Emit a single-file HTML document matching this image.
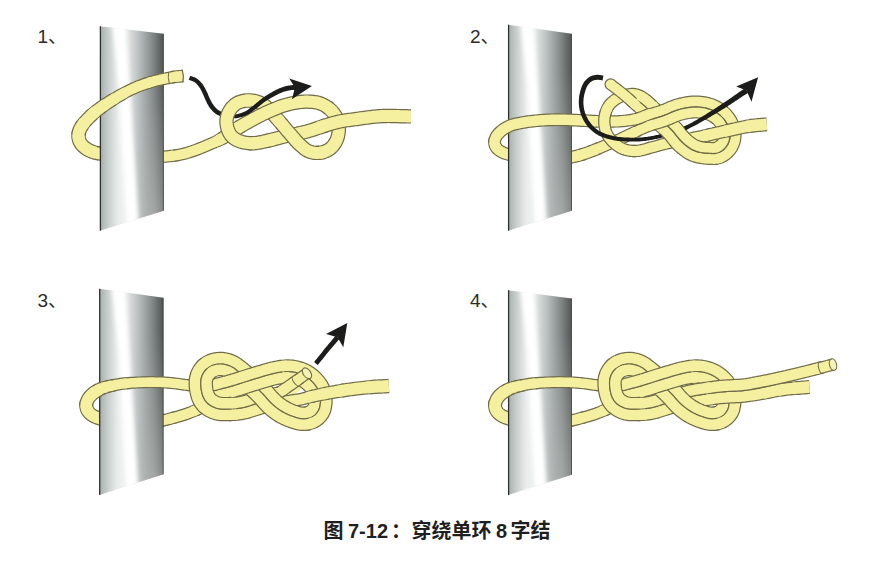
<!DOCTYPE html>
<html lang="zh"><head><meta charset="utf-8"><title>图 7-12：穿绕单环 8 字结</title>
<style>
html,body{margin:0;padding:0;background:#fff;}
body{width:891px;height:571px;overflow:hidden;position:relative;font-family:"Liberation Sans","Noto Sans CJK SC",sans-serif;}
svg{position:absolute;left:0;top:0;display:block;}
.lbl{position:absolute;font-size:19px;line-height:19px;color:#2b2b2b;white-space:nowrap;}
.cap{position:absolute;font-size:20px;line-height:22px;font-weight:bold;color:#1f1f1f;white-space:nowrap;}
</style></head><body>
<svg width="891" height="571" viewBox="0 0 891 571" fill="none" stroke-linecap="butt" stroke-linejoin="round">
<defs><filter id="blur" x="-50%" y="-10%" width="200%" height="120%"><feGaussianBlur stdDeviation="2.2 0.1"/></filter><linearGradient id="g1" gradientUnits="userSpaceOnUse" x1="100.0" y1="0" x2="163.7" y2="0"><stop offset="0.000" stop-color="#a9b1ae"/><stop offset="0.030" stop-color="#adb4b2"/><stop offset="0.085" stop-color="#bcc3c1"/><stop offset="0.155" stop-color="#cdd3d1"/><stop offset="0.225" stop-color="#dde1e0"/><stop offset="0.290" stop-color="#eaedec"/><stop offset="0.360" stop-color="#eceeee"/><stop offset="0.430" stop-color="#e2e6e5"/><stop offset="0.500" stop-color="#d3d8d7"/><stop offset="0.570" stop-color="#c3c9c8"/><stop offset="0.640" stop-color="#b2b8b7"/><stop offset="0.710" stop-color="#a0a6a5"/><stop offset="0.780" stop-color="#8e9493"/><stop offset="0.850" stop-color="#7b8180"/><stop offset="0.920" stop-color="#676c6b"/><stop offset="0.970" stop-color="#585d5c"/><stop offset="1.000" stop-color="#4c5050"/></linearGradient><clipPath id="cg1"><polygon points="100.0,26.3 163.7,33.8 163.7,210.8 100.0,230.7"/></clipPath><linearGradient id="vg1" gradientUnits="userSpaceOnUse" x1="0" y1="26.3" x2="0" y2="230.7"><stop offset="0.2" stop-color="#fff" stop-opacity="0"/><stop offset="1" stop-color="#fff" stop-opacity="0.34"/></linearGradient><linearGradient id="hg1" gradientUnits="userSpaceOnUse" x1="100.0" y1="0" x2="163.7" y2="0"><stop offset="0.55" stop-color="#000"/><stop offset="0.85" stop-color="#fff"/></linearGradient><mask id="mg1" maskUnits="userSpaceOnUse" x="100.0" y="26.3" width="63.7" height="204.4"><rect x="100.0" y="26.3" width="63.7" height="204.4" fill="url(#hg1)"/></mask><linearGradient id="g2" gradientUnits="userSpaceOnUse" x1="508.0" y1="0" x2="571.8" y2="0"><stop offset="0.000" stop-color="#a9b1ae"/><stop offset="0.030" stop-color="#adb4b2"/><stop offset="0.085" stop-color="#bcc3c1"/><stop offset="0.155" stop-color="#cdd3d1"/><stop offset="0.225" stop-color="#dde1e0"/><stop offset="0.290" stop-color="#eaedec"/><stop offset="0.360" stop-color="#eceeee"/><stop offset="0.430" stop-color="#e2e6e5"/><stop offset="0.500" stop-color="#d3d8d7"/><stop offset="0.570" stop-color="#c3c9c8"/><stop offset="0.640" stop-color="#b2b8b7"/><stop offset="0.710" stop-color="#a0a6a5"/><stop offset="0.780" stop-color="#8e9493"/><stop offset="0.850" stop-color="#7b8180"/><stop offset="0.920" stop-color="#676c6b"/><stop offset="0.970" stop-color="#585d5c"/><stop offset="1.000" stop-color="#4c5050"/></linearGradient><clipPath id="cg2"><polygon points="508.2,24.7 571.8,33.8 571.8,210.8 508.2,230.7"/></clipPath><linearGradient id="vg2" gradientUnits="userSpaceOnUse" x1="0" y1="24.7" x2="0" y2="230.7"><stop offset="0.2" stop-color="#fff" stop-opacity="0"/><stop offset="1" stop-color="#fff" stop-opacity="0.34"/></linearGradient><linearGradient id="hg2" gradientUnits="userSpaceOnUse" x1="508.2" y1="0" x2="571.8" y2="0"><stop offset="0.55" stop-color="#000"/><stop offset="0.85" stop-color="#fff"/></linearGradient><mask id="mg2" maskUnits="userSpaceOnUse" x="508.2" y="24.7" width="63.6" height="206.0"><rect x="508.2" y="24.7" width="63.6" height="206.0" fill="url(#hg2)"/></mask><linearGradient id="g4" gradientUnits="userSpaceOnUse" x1="508.0" y1="0" x2="572.0" y2="0"><stop offset="0.000" stop-color="#a9b1ae"/><stop offset="0.030" stop-color="#adb4b2"/><stop offset="0.085" stop-color="#bcc3c1"/><stop offset="0.155" stop-color="#cdd3d1"/><stop offset="0.225" stop-color="#dde1e0"/><stop offset="0.290" stop-color="#eaedec"/><stop offset="0.360" stop-color="#eceeee"/><stop offset="0.430" stop-color="#e2e6e5"/><stop offset="0.500" stop-color="#d3d8d7"/><stop offset="0.570" stop-color="#c3c9c8"/><stop offset="0.640" stop-color="#b2b8b7"/><stop offset="0.710" stop-color="#a0a6a5"/><stop offset="0.780" stop-color="#8e9493"/><stop offset="0.850" stop-color="#7b8180"/><stop offset="0.920" stop-color="#676c6b"/><stop offset="0.970" stop-color="#585d5c"/><stop offset="1.000" stop-color="#4c5050"/></linearGradient><clipPath id="cg4"><polygon points="508.2,290.2 571.8,298.4 571.8,474.8 508.2,495.1"/></clipPath><linearGradient id="vg4" gradientUnits="userSpaceOnUse" x1="0" y1="290.2" x2="0" y2="495.1"><stop offset="0.2" stop-color="#fff" stop-opacity="0"/><stop offset="1" stop-color="#fff" stop-opacity="0.34"/></linearGradient><linearGradient id="hg4" gradientUnits="userSpaceOnUse" x1="508.2" y1="0" x2="571.8" y2="0"><stop offset="0.55" stop-color="#000"/><stop offset="0.85" stop-color="#fff"/></linearGradient><mask id="mg4" maskUnits="userSpaceOnUse" x="508.2" y="290.2" width="63.6" height="204.9"><rect x="508.2" y="290.2" width="63.6" height="204.9" fill="url(#hg4)"/></mask><linearGradient id="g3" gradientUnits="userSpaceOnUse" x1="99.2" y1="0" x2="163.4" y2="0"><stop offset="0.000" stop-color="#a9b1ae"/><stop offset="0.030" stop-color="#adb4b2"/><stop offset="0.085" stop-color="#bcc3c1"/><stop offset="0.155" stop-color="#cdd3d1"/><stop offset="0.225" stop-color="#dde1e0"/><stop offset="0.290" stop-color="#eaedec"/><stop offset="0.360" stop-color="#eceeee"/><stop offset="0.430" stop-color="#e2e6e5"/><stop offset="0.500" stop-color="#d3d8d7"/><stop offset="0.570" stop-color="#c3c9c8"/><stop offset="0.640" stop-color="#b2b8b7"/><stop offset="0.710" stop-color="#a0a6a5"/><stop offset="0.780" stop-color="#8e9493"/><stop offset="0.850" stop-color="#7b8180"/><stop offset="0.920" stop-color="#676c6b"/><stop offset="0.970" stop-color="#585d5c"/><stop offset="1.000" stop-color="#4c5050"/></linearGradient><clipPath id="cg3"><polygon points="99.3,288.8 163.5,297.8 163.5,474.3 99.3,495.1"/></clipPath><linearGradient id="vg3" gradientUnits="userSpaceOnUse" x1="0" y1="288.8" x2="0" y2="495.1"><stop offset="0.2" stop-color="#fff" stop-opacity="0"/><stop offset="1" stop-color="#fff" stop-opacity="0.34"/></linearGradient><linearGradient id="hg3" gradientUnits="userSpaceOnUse" x1="99.3" y1="0" x2="163.5" y2="0"><stop offset="0.55" stop-color="#000"/><stop offset="0.85" stop-color="#fff"/></linearGradient><mask id="mg3" maskUnits="userSpaceOnUse" x="99.3" y="288.8" width="64.2" height="206.3"><rect x="99.3" y="288.8" width="64.2" height="206.3" fill="url(#hg3)"/></mask></defs>
<path d="M79.2,131.4L78.7,133.2L78.5,135.0L78.5,136.9L78.8,138.7L79.3,140.5L80.1,142.3L81.2,144.0L82.5,145.5L83.6,146.6L84.8,147.7L86.1,148.6L87.5,149.5L89.0,150.4L90.7,151.1L92.3,151.7L94.0,152.3L95.7,152.8L97.5,153.2L99.2,153.5" stroke="#706c48" stroke-width="14.40"/><path d="M79.8,129.6L79.2,131.4L78.7,133.2L78.5,135.0L78.5,136.9L78.8,138.7L79.3,140.5L80.1,142.3L81.2,144.0L82.5,145.5L83.6,146.6L84.8,147.7L86.1,148.6L87.5,149.5L89.0,150.4L90.7,151.1L92.3,151.7L94.0,152.3L95.7,152.8L97.5,153.2L99.2,153.5L101.0,153.8L102.5,154.1" stroke="#f4f0a0" stroke-width="12.00"/>
<path d="M95.7,152.8L97.5,153.2L99.2,153.5L101.0,153.8L102.5,154.1L104.1,154.4L105.7,154.6L107.2,154.9L108.8,155.1" stroke="#706c48" stroke-width="14.00"/><path d="M92.3,151.7L94.0,152.3L95.7,152.8L97.5,153.2L99.2,153.5L101.0,153.8L102.5,154.1L104.1,154.4L105.7,154.6L107.2,154.9L108.8,155.1L110.3,155.3L111.9,155.6" stroke="#f4f0a0" stroke-width="11.60"/>
<path d="M105.7,154.6L107.2,154.9L108.8,155.1L110.3,155.3L111.9,155.6L113.4,155.8L115.0,156.0L116.5,156.2L118.0,156.4L119.5,156.6L121.0,156.8" stroke="#706c48" stroke-width="13.60"/><path d="M102.5,154.1L104.1,154.4L105.7,154.6L107.2,154.9L108.8,155.1L110.3,155.3L111.9,155.6L113.4,155.8L115.0,156.0L116.5,156.2L118.0,156.4L119.5,156.6L121.0,156.8L122.5,157.0L124.0,157.2" stroke="#f4f0a0" stroke-width="11.20"/>
<path d="M118.0,156.4L119.5,156.6L121.0,156.8L122.5,157.0L124.0,157.2L125.5,157.4L127.0,157.5L128.5,157.7L130.0,157.8L131.5,157.9" stroke="#706c48" stroke-width="13.20"/><path d="M115.0,156.0L116.5,156.2L118.0,156.4L119.5,156.6L121.0,156.8L122.5,157.0L124.0,157.2L125.5,157.4L127.0,157.5L128.5,157.7L130.0,157.8L131.5,157.9L133.0,158.0L134.5,158.1" stroke="#f4f0a0" stroke-width="10.80"/>
<path d="M128.5,157.7L130.0,157.8L131.5,157.9L133.0,158.0L134.5,158.1L136.0,158.2L137.5,158.2L139.0,158.3L140.5,158.3L142.0,158.3L143.5,158.3L145.0,158.3L146.6,158.3" stroke="#706c48" stroke-width="12.80"/><path d="M125.5,157.4L127.0,157.5L128.5,157.7L130.0,157.8L131.5,157.9L133.0,158.0L134.5,158.1L136.0,158.2L137.5,158.2L139.0,158.3L140.5,158.3L142.0,158.3L143.5,158.3L145.0,158.3L146.6,158.3L148.2,158.2L149.8,158.1" stroke="#f4f0a0" stroke-width="10.40"/>
<path d="M143.5,158.3L145.0,158.3L146.6,158.3L148.2,158.2L149.8,158.1L151.3,158.0L152.9,157.8L154.5,157.7L156.1,157.5L157.7,157.4L159.3,157.2L160.8,157.0L162.4,156.9L164.0,156.7L165.7,156.5L167.3,156.4L169.0,156.2L170.7,156.0L172.3,155.8L174.0,155.6L175.6,155.4L177.3,155.1" stroke="#706c48" stroke-width="12.40"/><path d="M140.5,158.3L142.0,158.3L143.5,158.3L145.0,158.3L146.6,158.3L148.2,158.2L149.8,158.1L151.3,158.0L152.9,157.8L154.5,157.7L156.1,157.5L157.7,157.4L159.3,157.2L160.8,157.0L162.4,156.9L164.0,156.7L165.7,156.5L167.3,156.4L169.0,156.2L170.7,156.0L172.3,155.8L174.0,155.6L175.6,155.4L177.3,155.1L178.9,154.8" stroke="#f4f0a0" stroke-width="10.00"/>
<path d="M495.1,139.1L494.6,140.9L494.5,142.8L494.9,144.8L495.7,146.6L496.8,148.3L497.9,149.4L499.1,150.4L500.4,151.2L501.8,152.0L503.4,152.8L505.0,153.4L506.7,153.9L508.4,154.4L509.9,154.8L511.4,155.2L512.8,155.5L514.4,155.7L515.9,156.0L517.4,156.2L518.9,156.3L520.4,156.5L522.0,156.7L523.5,156.8L525.0,157.0L526.5,157.2L528.1,157.3L529.6,157.5L531.1,157.6L532.7,157.7L534.2,157.8L535.8,157.9L537.3,158.0L538.8,158.1L540.4,158.2L541.9,158.2L543.5,158.3L545.0,158.3L546.6,158.3L548.2,158.4L549.7,158.4L551.3,158.4L552.9,158.4L554.5,158.4L556.1,158.4L557.7,158.4L559.3,158.4L560.8,158.3L562.4,158.2L564.0,158.1L565.6,158.0L567.1,157.8L568.7,157.6L570.2,157.4L571.8,157.1L573.3,156.8L574.9,156.4L576.4,156.1L578.0,155.7L579.5,155.2L581.0,154.8L582.6,154.3L584.2,153.8" stroke="#706c48" stroke-width="12.80"/><path d="M495.8,137.3L495.1,139.1L494.6,140.9L494.5,142.8L494.9,144.8L495.7,146.6L496.8,148.3L497.9,149.4L499.1,150.4L500.4,151.2L501.8,152.0L503.4,152.8L505.0,153.4L506.7,153.9L508.4,154.4L509.9,154.8L511.4,155.2L512.8,155.5L514.4,155.7L515.9,156.0L517.4,156.2L518.9,156.3L520.4,156.5L522.0,156.7L523.5,156.8L525.0,157.0L526.5,157.2L528.1,157.3L529.6,157.5L531.1,157.6L532.7,157.7L534.2,157.8L535.8,157.9L537.3,158.0L538.8,158.1L540.4,158.2L541.9,158.2L543.5,158.3L545.0,158.3L546.6,158.3L548.2,158.4L549.7,158.4L551.3,158.4L552.9,158.4L554.5,158.4L556.1,158.4L557.7,158.4L559.3,158.4L560.8,158.3L562.4,158.2L564.0,158.1L565.6,158.0L567.1,157.8L568.7,157.6L570.2,157.4L571.8,157.1L573.3,156.8L574.9,156.4L576.4,156.1L578.0,155.7L579.5,155.2L581.0,154.8L582.6,154.3L584.2,153.8L585.7,153.3" stroke="#f4f0a0" stroke-width="10.40"/>
<path d="M540.0,421.4L541.5,421.4L543.1,421.4L544.6,421.4L546.2,421.4L547.7,421.5L549.2,421.5L550.8,421.5L552.3,421.5L553.9,421.5L555.4,421.5L556.9,421.4L558.5,421.4L560.0,421.3L561.5,421.2L563.0,421.1L564.5,421.1L566.0,421.0L567.5,420.9L569.0,420.7L570.5,420.5L572.0,420.3L573.7,420.0" stroke="#706c48" stroke-width="12.80"/><path d="M540.0,421.4L541.5,421.4L543.1,421.4L544.6,421.4L546.2,421.4L547.7,421.5L549.2,421.5L550.8,421.5L552.3,421.5L553.9,421.5L555.4,421.5L556.9,421.4L558.5,421.4L560.0,421.3L561.5,421.2L563.0,421.1L564.5,421.1L566.0,421.0L567.5,420.9L569.0,420.7L570.5,420.5L572.0,420.3L573.7,420.0L575.4,419.6L577.0,419.2" stroke="#f4f0a0" stroke-width="10.40"/>
<path d="M570.5,420.5L572.0,420.3L573.7,420.0L575.4,419.6L577.0,419.2L578.7,418.7L580.3,418.3L582.0,417.8L583.7,417.4L585.3,416.9" stroke="#706c48" stroke-width="12.40"/><path d="M567.5,420.9L569.0,420.7L570.5,420.5L572.0,420.3L573.7,420.0L575.4,419.6L577.0,419.2L578.7,418.7L580.3,418.3L582.0,417.8L583.7,417.4L585.3,416.9L587.0,416.5" stroke="#f4f0a0" stroke-width="10.00"/>
<path d="M545.0,421.5L543.5,421.4L541.9,421.4L540.4,421.3L538.8,421.2L537.3,421.2L535.8,421.1L534.2,421.1L532.7,421.0L531.1,420.9L529.6,420.8L528.1,420.7L526.5,420.6L525.0,420.5L523.5,420.4L521.9,420.3" stroke="#706c48" stroke-width="12.80"/><path d="M545.0,421.5L543.5,421.4L541.9,421.4L540.4,421.3L538.8,421.2L537.3,421.2L535.8,421.1L534.2,421.1L532.7,421.0L531.1,420.9L529.6,420.8L528.1,420.7L526.5,420.6L525.0,420.5L523.5,420.4L521.9,420.3L520.3,420.2L518.8,420.1" stroke="#f4f0a0" stroke-width="10.40"/>
<path d="M525.0,420.5L523.5,420.4L521.9,420.3L520.3,420.2L518.8,420.1L517.2,420.0L515.7,419.9" stroke="#706c48" stroke-width="13.20"/><path d="M528.1,420.7L526.5,420.6L525.0,420.5L523.5,420.4L521.9,420.3L520.3,420.2L518.8,420.1L517.2,420.0L515.7,419.9L514.1,419.7L512.6,419.5" stroke="#f4f0a0" stroke-width="10.80"/>
<path d="M518.8,420.1L517.2,420.0L515.7,419.9L514.1,419.7L512.6,419.5L511.1,419.2L509.6,418.8" stroke="#706c48" stroke-width="13.60"/><path d="M521.9,420.3L520.3,420.2L518.8,420.1L517.2,420.0L515.7,419.9L514.1,419.7L512.6,419.5L511.1,419.2L509.6,418.8L508.1,418.4L506.4,417.8" stroke="#f4f0a0" stroke-width="11.20"/>
<path d="M512.6,419.5L511.1,419.2L509.6,418.8L508.1,418.4L506.4,417.8L504.7,417.2L503.1,416.5L501.5,415.6L500.2,414.7L498.9,413.7L497.8,412.6L496.8,411.3L495.9,409.6L495.3,407.7L495.0,405.8L495.1,403.8L495.6,401.9" stroke="#706c48" stroke-width="14.00"/><path d="M515.7,419.9L514.1,419.7L512.6,419.5L511.1,419.2L509.6,418.8L508.1,418.4L506.4,417.8L504.7,417.2L503.1,416.5L501.5,415.6L500.2,414.7L498.9,413.7L497.8,412.6L496.8,411.3L495.9,409.6L495.3,407.7L495.0,405.8L495.1,403.8L495.6,401.9L496.4,400.0" stroke="#f4f0a0" stroke-width="11.60"/>
<path d="M131.2,421.4L132.7,421.4L134.3,421.4L135.8,421.4L137.4,421.4L138.9,421.5L140.4,421.5L142.0,421.5L143.5,421.5L145.1,421.5L146.6,421.5L148.1,421.4L149.7,421.4L151.2,421.3L152.7,421.2L154.2,421.1L155.7,421.1L157.2,421.0L158.7,420.9L160.2,420.7L161.7,420.5L163.2,420.3L164.9,420.0" stroke="#706c48" stroke-width="12.80"/><path d="M131.2,421.4L132.7,421.4L134.3,421.4L135.8,421.4L137.4,421.4L138.9,421.5L140.4,421.5L142.0,421.5L143.5,421.5L145.1,421.5L146.6,421.5L148.1,421.4L149.7,421.4L151.2,421.3L152.7,421.2L154.2,421.1L155.7,421.1L157.2,421.0L158.7,420.9L160.2,420.7L161.7,420.5L163.2,420.3L164.9,420.0L166.6,419.6L168.2,419.2" stroke="#f4f0a0" stroke-width="10.40"/>
<path d="M161.7,420.5L163.2,420.3L164.9,420.0L166.6,419.6L168.2,419.2L169.9,418.7L171.5,418.3L173.2,417.8L174.9,417.4L176.5,416.9" stroke="#706c48" stroke-width="12.40"/><path d="M158.7,420.9L160.2,420.7L161.7,420.5L163.2,420.3L164.9,420.0L166.6,419.6L168.2,419.2L169.9,418.7L171.5,418.3L173.2,417.8L174.9,417.4L176.5,416.9L178.2,416.5" stroke="#f4f0a0" stroke-width="10.00"/>
<path d="M136.2,421.5L134.7,421.4L133.1,421.4L131.6,421.3L130.0,421.2L128.5,421.2L127.0,421.1L125.4,421.1L123.9,421.0L122.3,420.9L120.8,420.8L119.3,420.7L117.7,420.6L116.2,420.5L114.7,420.4L113.1,420.3" stroke="#706c48" stroke-width="12.80"/><path d="M136.2,421.5L134.7,421.4L133.1,421.4L131.6,421.3L130.0,421.2L128.5,421.2L127.0,421.1L125.4,421.1L123.9,421.0L122.3,420.9L120.8,420.8L119.3,420.7L117.7,420.6L116.2,420.5L114.7,420.4L113.1,420.3L111.5,420.2L110.0,420.1" stroke="#f4f0a0" stroke-width="10.40"/>
<path d="M116.2,420.5L114.7,420.4L113.1,420.3L111.5,420.2L110.0,420.1L108.4,420.0L106.9,419.9" stroke="#706c48" stroke-width="13.20"/><path d="M119.3,420.7L117.7,420.6L116.2,420.5L114.7,420.4L113.1,420.3L111.5,420.2L110.0,420.1L108.4,420.0L106.9,419.9L105.3,419.7L103.8,419.5" stroke="#f4f0a0" stroke-width="10.80"/>
<path d="M110.0,420.1L108.4,420.0L106.9,419.9L105.3,419.7L103.8,419.5L102.3,419.2L100.8,418.8" stroke="#706c48" stroke-width="13.60"/><path d="M113.1,420.3L111.5,420.2L110.0,420.1L108.4,420.0L106.9,419.9L105.3,419.7L103.8,419.5L102.3,419.2L100.8,418.8L99.3,418.4L97.6,417.8" stroke="#f4f0a0" stroke-width="11.20"/>
<path d="M103.8,419.5L102.3,419.2L100.8,418.8L99.3,418.4L97.6,417.8L95.9,417.2L94.3,416.5L92.7,415.6L91.4,414.7L90.1,413.7L89.0,412.6L88.0,411.3L87.1,409.6L86.5,407.7L86.2,405.8L86.3,403.8L86.8,401.9" stroke="#706c48" stroke-width="14.00"/><path d="M106.9,419.9L105.3,419.7L103.8,419.5L102.3,419.2L100.8,418.8L99.3,418.4L97.6,417.8L95.9,417.2L94.3,416.5L92.7,415.6L91.4,414.7L90.1,413.7L89.0,412.6L88.0,411.3L87.1,409.6L86.5,407.7L86.2,405.8L86.3,403.8L86.8,401.9L87.6,400.0" stroke="#f4f0a0" stroke-width="11.60"/>
<g clip-path="url(#cg1)"><rect x="100.0" y="26.3" width="63.7" height="204.4" fill="url(#g1)"/><polygon points="112.1,22.3 125.5,22.3 139.5,234.7 126.1,234.7 119.1,87.6" fill="#fff" filter="url(#blur)"/><rect x="100.0" y="26.3" width="63.7" height="204.4" fill="url(#vg1)" mask="url(#mg1)"/></g><line x1="100.4" y1="26.3" x2="100.4" y2="230.7" stroke="#2e3030" stroke-width="1.3" stroke-linecap="butt"/><line x1="163.4" y1="33.8" x2="163.4" y2="210.8" stroke="#3c4040" stroke-width="0.8" stroke-linecap="butt"/>
<g clip-path="url(#cg2)"><rect x="508.2" y="24.7" width="63.6" height="206.0" fill="url(#g2)"/><polygon points="520.3,20.7 533.6,20.7 547.6,234.7 534.3,234.7 527.3,86.5" fill="#fff" filter="url(#blur)"/><rect x="508.2" y="24.7" width="63.6" height="206.0" fill="url(#vg2)" mask="url(#mg2)"/></g><line x1="508.6" y1="24.7" x2="508.6" y2="230.7" stroke="#2e3030" stroke-width="1.3" stroke-linecap="butt"/><line x1="571.5" y1="33.8" x2="571.5" y2="210.8" stroke="#3c4040" stroke-width="0.8" stroke-linecap="butt"/>
<g clip-path="url(#cg4)"><rect x="508.2" y="290.2" width="63.6" height="204.9" fill="url(#g4)"/><polygon points="520.3,286.2 533.6,286.2 547.6,499.1 534.3,499.1 527.3,351.7" fill="#fff" filter="url(#blur)"/><rect x="508.2" y="290.2" width="63.6" height="204.9" fill="url(#vg4)" mask="url(#mg4)"/></g><line x1="508.6" y1="290.2" x2="508.6" y2="495.1" stroke="#2e3030" stroke-width="1.3" stroke-linecap="butt"/><line x1="571.5" y1="298.4" x2="571.5" y2="474.8" stroke="#3c4040" stroke-width="0.8" stroke-linecap="butt"/>
<g clip-path="url(#cg3)"><rect x="99.3" y="288.8" width="64.2" height="206.3" fill="url(#g3)"/><polygon points="111.5,284.8 125.0,284.8 139.1,499.1 125.6,499.1 118.6,350.7" fill="#fff" filter="url(#blur)"/><rect x="99.3" y="288.8" width="64.2" height="206.3" fill="url(#vg3)" mask="url(#mg3)"/></g><line x1="99.7" y1="288.8" x2="99.7" y2="495.1" stroke="#2e3030" stroke-width="1.3" stroke-linecap="butt"/><line x1="163.2" y1="297.8" x2="163.2" y2="474.3" stroke="#3c4040" stroke-width="0.8" stroke-linecap="butt"/>
<polygon points="188.7,79.8 189.8,80.2 190.9,80.6 191.9,80.9 192.8,81.3 193.7,81.7 194.4,82.1 195.1,82.6 195.8,83.2 196.5,83.8 197.1,84.5 197.7,85.2 198.4,86.0 198.9,86.7 199.5,87.5 200.0,88.2 200.5,89.0 200.9,89.9 201.4,90.8 201.8,91.7 202.3,92.6 202.7,93.5 203.1,94.4 203.6,95.4 204.0,96.4 204.4,97.4 204.8,98.5 205.3,99.5 205.8,100.6 206.2,101.5 206.7,102.4 207.1,103.4 207.6,104.3 208.2,105.3 208.7,106.2 209.3,107.2 210.0,108.1 210.7,109.0 211.4,109.8 212.1,110.6 212.9,111.5 213.8,112.2 214.6,113.0 215.6,113.7 216.7,114.4 217.8,115.0 218.9,115.6 220.0,116.1 221.2,116.6 222.3,117.0 223.4,117.3 224.4,117.6 225.5,117.8 226.4,118.0 227.4,118.3 228.6,113.7 227.5,113.5 226.5,113.2 225.5,113.0 224.6,112.8 223.7,112.5 222.8,112.2 221.8,111.8 220.9,111.4 219.9,110.9 219.1,110.4 218.2,109.9 217.5,109.4 216.8,108.8 216.1,108.2 215.5,107.5 214.8,106.8 214.2,106.1 213.6,105.3 213.1,104.6 212.6,103.8 212.1,103.0 211.6,102.2 211.2,101.3 210.7,100.4 210.3,99.5 209.8,98.6 209.4,97.7 209.0,96.7 208.5,95.7 208.1,94.7 207.7,93.6 207.2,92.6 206.7,91.5 206.2,90.6 205.8,89.7 205.3,88.7 204.8,87.8 204.3,86.9 203.7,85.9 203.1,85.0 202.5,84.1 201.8,83.2 201.1,82.4 200.3,81.5 199.5,80.7 198.7,79.9 197.8,79.2 196.8,78.5 195.6,77.8 194.5,77.3 193.4,76.9 192.3,76.5 191.3,76.2 190.3,75.8" fill="#1c1c1a"/>
<polygon points="704,141 720,137 720,142.5 708,144.5" fill="#f4f0a0"/>
<polygon points="286.5,396.5 298.3,386 301.2,388.8 297.3,392.2" fill="#f4f0a0"/>
<path d="M174.0,155.6L175.6,155.4L177.3,155.1L178.9,154.8L180.5,154.5L182.1,154.2L183.7,153.8L185.4,153.4L187.0,152.9L188.7,152.4L190.4,151.8L192.0,151.3L193.4,150.8L194.9,150.3L196.3,149.8L197.7,149.3L199.1,148.7L200.5,148.2L201.9,147.6L203.3,147.0L204.8,146.4L206.2,145.8L207.6,145.2L209.0,144.6L210.4,144.0L211.8,143.4L213.2,142.8L214.6,142.2L215.9,141.6L217.3,140.9L218.8,140.2L220.2,139.4" stroke="#706c48" stroke-width="12.40"/><path d="M169.0,156.2L170.7,156.0L172.3,155.8L174.0,155.6L175.6,155.4L177.3,155.1L178.9,154.8L180.5,154.5L182.1,154.2L183.7,153.8L185.4,153.4L187.0,152.9L188.7,152.4L190.4,151.8L192.0,151.3L193.4,150.8L194.9,150.3L196.3,149.8L197.7,149.3L199.1,148.7L200.5,148.2L201.9,147.6L203.3,147.0L204.8,146.4L206.2,145.8L207.6,145.2L209.0,144.6L210.4,144.0L211.8,143.4L213.2,142.8L214.6,142.2L215.9,141.6L217.3,140.9L218.8,140.2L220.2,139.4L221.7,138.6L223.1,137.8" stroke="#f4f0a0" stroke-width="10.00"/>
<path d="M217.3,140.9L218.8,140.2L220.2,139.4L221.7,138.6L223.1,137.8" stroke="#706c48" stroke-width="12.80"/><path d="M214.6,142.2L215.9,141.6L217.3,140.9L218.8,140.2L220.2,139.4L221.7,138.6L223.1,137.8L224.5,137.0L225.8,136.2" stroke="#f4f0a0" stroke-width="10.40"/>
<path d="M220.2,139.4L221.7,138.6L223.1,137.8L224.5,137.0" stroke="#706c48" stroke-width="13.20"/><path d="M217.3,140.9L218.8,140.2L220.2,139.4L221.7,138.6L223.1,137.8L224.5,137.0L225.8,136.2L227.0,135.4" stroke="#f4f0a0" stroke-width="10.80"/>
<path d="M221.7,138.6L223.1,137.8L224.5,137.0L225.8,136.2L227.0,135.4L228.3,134.5" stroke="#706c48" stroke-width="13.60"/><path d="M218.8,140.2L220.2,139.4L221.7,138.6L223.1,137.8L224.5,137.0L225.8,136.2L227.0,135.4L228.3,134.5L229.5,133.7L230.8,132.8" stroke="#f4f0a0" stroke-width="11.20"/>
<path d="M225.8,136.2L227.0,135.4L228.3,134.5L229.5,133.7L230.8,132.8" stroke="#706c48" stroke-width="14.00"/><path d="M223.1,137.8L224.5,137.0L225.8,136.2L227.0,135.4L228.3,134.5L229.5,133.7L230.8,132.8L232.0,132.0L233.3,131.1" stroke="#f4f0a0" stroke-width="11.60"/>
<path d="M228.3,134.5L229.5,133.7L230.8,132.8L232.0,132.0L233.3,131.1L234.7,130.2L236.0,129.3L237.3,128.4L238.7,127.5L240.0,126.7L241.3,125.9" stroke="#706c48" stroke-width="14.40"/><path d="M225.8,136.2L227.0,135.4L228.3,134.5L229.5,133.7L230.8,132.8L232.0,132.0L233.3,131.1L234.7,130.2L236.0,129.3L237.3,128.4L238.7,127.5L240.0,126.7L241.3,125.9L242.6,125.1" stroke="#f4f0a0" stroke-width="12.00"/>
<path d="M326.8,106.8L328.1,107.8L329.4,108.8L330.6,109.8L331.7,110.9L332.8,112.1L333.8,113.3L334.7,114.6L335.6,115.9L336.3,117.3L337.0,118.9L337.6,120.5L338.0,122.1L338.4,123.8L338.6,125.5L338.7,127.2L338.8,128.9L338.8,130.4L338.7,131.9L338.5,133.4L338.2,135.0L337.9,136.4L337.4,137.9L336.9,139.3L336.3,140.7L335.6,142.1L334.8,143.4L333.9,144.7L333.0,145.9L331.9,147.1L330.8,148.1L329.6,149.1L328.3,149.9L326.9,150.7L325.5,151.3L324.1,151.8L322.6,152.3L321.0,152.6L319.5,152.8L317.8,152.9L316.1,152.9" stroke="#706c48" stroke-width="14.40"/><path d="M325.4,105.9L326.8,106.8L328.1,107.8L329.4,108.8L330.6,109.8L331.7,110.9L332.8,112.1L333.8,113.3L334.7,114.6L335.6,115.9L336.3,117.3L337.0,118.9L337.6,120.5L338.0,122.1L338.4,123.8L338.6,125.5L338.7,127.2L338.8,128.9L338.8,130.4L338.7,131.9L338.5,133.4L338.2,135.0L337.9,136.4L337.4,137.9L336.9,139.3L336.3,140.7L335.6,142.1L334.8,143.4L333.9,144.7L333.0,145.9L331.9,147.1L330.8,148.1L329.6,149.1L328.3,149.9L326.9,150.7L325.5,151.3L324.1,151.8L322.6,152.3L321.0,152.6L319.5,152.8L317.8,152.9L316.1,152.9L314.4,152.8" stroke="#f4f0a0" stroke-width="12.00"/>
<path d="M282.8,125.4L281.8,124.2L280.8,123.0L279.8,121.8L278.8,120.6L277.7,119.5L276.7,118.3L275.7,117.1L274.7,115.9L273.6,114.8L272.6,113.6L271.5,112.5L270.4,111.4L269.4,110.2L268.3,109.1L267.3,107.9L266.2,106.8L265.0,105.8L263.8,104.8L262.5,104.0L261.2,103.3L259.8,102.7L258.4,102.1L256.9,101.6L255.5,101.2L254.0,100.9L252.3,100.6L250.6,100.5L248.8,100.5L247.1,100.5L245.4,100.7L243.8,100.9L242.2,101.3" stroke="#706c48" stroke-width="14.40"/><path d="M283.8,126.5L282.8,125.4L281.8,124.2L280.8,123.0L279.8,121.8L278.8,120.6L277.7,119.5L276.7,118.3L275.7,117.1L274.7,115.9L273.6,114.8L272.6,113.6L271.5,112.5L270.4,111.4L269.4,110.2L268.3,109.1L267.3,107.9L266.2,106.8L265.0,105.8L263.8,104.8L262.5,104.0L261.2,103.3L259.8,102.7L258.4,102.1L256.9,101.6L255.5,101.2L254.0,100.9L252.3,100.6L250.6,100.5L248.8,100.5L247.1,100.5L245.4,100.7L243.8,100.9L242.2,101.3L240.7,101.7" stroke="#f4f0a0" stroke-width="12.00"/>
<path d="M266.0,141.1L267.5,140.7L269.0,140.4L270.5,140.1L272.0,139.7L273.5,139.3L275.1,138.9L276.6,138.5L278.1,138.1L279.6,137.7L281.1,137.3L282.6,136.9L284.1,136.5L285.6,136.2L287.0,135.8L288.5,135.5L290.0,135.2L291.5,134.9L293.0,134.6L294.4,134.3L295.9,134.0L297.4,133.7L298.9,133.3L300.4,133.0L301.9,132.7L303.4,132.3L304.9,132.0L306.4,131.6L307.9,131.2L309.4,130.8L310.9,130.4L312.4,129.9L313.9,129.4L315.4,128.9L316.9,128.3L318.3,127.8L319.8,127.3L321.3,126.8L322.8,126.3L324.3,125.8L325.8,125.3" stroke="#706c48" stroke-width="14.40"/><path d="M264.4,141.4L266.0,141.1L267.5,140.7L269.0,140.4L270.5,140.1L272.0,139.7L273.5,139.3L275.1,138.9L276.6,138.5L278.1,138.1L279.6,137.7L281.1,137.3L282.6,136.9L284.1,136.5L285.6,136.2L287.0,135.8L288.5,135.5L290.0,135.2L291.5,134.9L293.0,134.6L294.4,134.3L295.9,134.0L297.4,133.7L298.9,133.3L300.4,133.0L301.9,132.7L303.4,132.3L304.9,132.0L306.4,131.6L307.9,131.2L309.4,130.8L310.9,130.4L312.4,129.9L313.9,129.4L315.4,128.9L316.9,128.3L318.3,127.8L319.8,127.3L321.3,126.8L322.8,126.3L324.3,125.8L325.8,125.3L327.4,124.9" stroke="#f4f0a0" stroke-width="12.00"/>
<path d="M714.0,159.1L715.5,159.0L717.0,158.8L718.7,158.3L720.4,157.8L722.0,157.1L723.6,156.3L725.1,155.3L726.5,154.3L727.9,153.1L729.1,151.8L730.3,150.5L731.3,149.0L732.2,147.8L732.9,146.4L733.5,145.0L734.1,143.6L734.6,142.2L735.0,140.7L735.3,138.9L735.5,137.2L735.6,135.4L735.5,133.6L735.4,131.8L735.1,130.2L734.7,128.6L734.2,127.0L733.7,125.4L733.1,123.9L732.4,122.5L731.7,121.1L731.0,119.7L730.1,118.4L729.3,117.2L728.4,116.0L727.4,114.8L726.4,113.7L725.3,112.6L724.2,111.6L723.0,110.6L721.9,109.6" stroke="#706c48" stroke-width="12.00"/><path d="M712.5,159.0L714.0,159.1L715.5,159.0L717.0,158.8L718.7,158.3L720.4,157.8L722.0,157.1L723.6,156.3L725.1,155.3L726.5,154.3L727.9,153.1L729.1,151.8L730.3,150.5L731.3,149.0L732.2,147.8L732.9,146.4L733.5,145.0L734.1,143.6L734.6,142.2L735.0,140.7L735.3,138.9L735.5,137.2L735.6,135.4L735.5,133.6L735.4,131.8L735.1,130.2L734.7,128.6L734.2,127.0L733.7,125.4L733.1,123.9L732.4,122.5L731.7,121.1L731.0,119.7L730.1,118.4L729.3,117.2L728.4,116.0L727.4,114.8L726.4,113.7L725.3,112.6L724.2,111.6L723.0,110.6L721.9,109.6L720.6,108.7" stroke="#f4f0a0" stroke-width="9.60"/>
<path d="M581.0,154.8L582.6,154.3L584.2,153.8L585.7,153.3L587.3,152.7L588.8,152.2L590.4,151.6L591.9,151.0L593.5,150.4L595.0,149.8L596.5,149.2L598.0,148.6L599.5,148.0" stroke="#706c48" stroke-width="12.80"/><path d="M576.4,156.1L578.0,155.7L579.5,155.2L581.0,154.8L582.6,154.3L584.2,153.8L585.7,153.3L587.3,152.7L588.8,152.2L590.4,151.6L591.9,151.0L593.5,150.4L595.0,149.8L596.5,149.2L598.0,148.6L599.5,148.0L601.0,147.4L602.5,146.7" stroke="#f4f0a0" stroke-width="10.40"/>
<path d="M596.5,149.2L598.0,148.6L599.5,148.0L601.0,147.4L602.5,146.7L604.0,146.1L605.5,145.4L607.0,144.8L608.5,144.2L610.0,143.5L611.5,142.9L613.0,142.3L614.5,141.7L616.0,141.0L617.4,140.3L618.9,139.7L620.3,139.0L621.7,138.3L623.1,137.6L624.6,136.9L626.0,136.2L627.5,135.5L628.9,134.8L630.4,134.1L631.8,133.5L633.3,132.8L634.8,132.1L636.2,131.5L637.7,130.8L639.1,130.2" stroke="#706c48" stroke-width="12.40"/><path d="M593.5,150.4L595.0,149.8L596.5,149.2L598.0,148.6L599.5,148.0L601.0,147.4L602.5,146.7L604.0,146.1L605.5,145.4L607.0,144.8L608.5,144.2L610.0,143.5L611.5,142.9L613.0,142.3L614.5,141.7L616.0,141.0L617.4,140.3L618.9,139.7L620.3,139.0L621.7,138.3L623.1,137.6L624.6,136.9L626.0,136.2L627.5,135.5L628.9,134.8L630.4,134.1L631.8,133.5L633.3,132.8L634.8,132.1L636.2,131.5L637.7,130.8L639.1,130.2L640.4,129.6L641.8,129.0" stroke="#f4f0a0" stroke-width="10.00"/>
<path d="M636.2,131.5L637.7,130.8L639.1,130.2L640.4,129.6L641.8,129.0L643.2,128.4L644.6,127.8L646.0,127.2L647.3,126.6L648.7,126.1L650.2,125.6L651.6,125.1L653.0,124.6L654.5,124.2" stroke="#706c48" stroke-width="12.00"/><path d="M633.3,132.8L634.8,132.1L636.2,131.5L637.7,130.8L639.1,130.2L640.4,129.6L641.8,129.0L643.2,128.4L644.6,127.8L646.0,127.2L647.3,126.6L648.7,126.1L650.2,125.6L651.6,125.1L653.0,124.6L654.5,124.2L655.9,123.8" stroke="#f4f0a0" stroke-width="9.60"/>
<path d="M714.0,117.5L715.5,118.6L716.8,119.7L718.1,120.9L719.3,122.3L720.4,123.6L721.3,125.1L722.2,126.6L722.9,128.2L723.6,129.9L724.1,131.6L724.5,133.3L724.6,134.9L724.5,136.6L724.2,138.2L723.8,139.8L723.1,141.4L722.3,142.8L721.3,144.1L720.1,145.3L718.8,146.3L717.0,147.3L715.1,147.9L713.5,148.1L711.8,148.0" stroke="#706c48" stroke-width="12.00"/><path d="M712.5,116.6L714.0,117.5L715.5,118.6L716.8,119.7L718.1,120.9L719.3,122.3L720.4,123.6L721.3,125.1L722.2,126.6L722.9,128.2L723.6,129.9L724.1,131.6L724.5,133.3L724.6,134.9L724.5,136.6L724.2,138.2L723.8,139.8L723.1,141.4L722.3,142.8L721.3,144.1L720.1,145.3L718.8,146.3L717.0,147.3L715.1,147.9L713.5,148.1L711.8,148.0L710.1,147.9" stroke="#f4f0a0" stroke-width="9.60"/>
<path d="M632.1,150.9L633.8,151.0L635.5,151.0L637.1,150.9L638.6,150.8L640.1,150.5L641.7,150.2L643.2,149.8L644.7,149.4L646.2,149.0L647.8,148.5L649.3,148.0L650.8,147.6L652.3,147.2L653.9,146.8L655.5,146.4L657.1,145.9L658.6,145.5L660.2,145.1L661.8,144.6L663.4,144.2L665.0,143.8L666.5,143.4L668.0,143.1L669.5,142.8L671.0,142.5L672.5,142.1L674.0,141.8L675.5,141.5L677.0,141.3L678.5,141.0L680.0,140.7L681.5,140.4L683.0,140.1L684.5,139.8L686.0,139.5L687.5,139.2L689.0,138.9L690.6,138.6L692.1,138.3L693.6,138.0L695.1,137.7" stroke="#706c48" stroke-width="12.40"/><path d="M630.4,150.8L632.1,150.9L633.8,151.0L635.5,151.0L637.1,150.9L638.6,150.8L640.1,150.5L641.7,150.2L643.2,149.8L644.7,149.4L646.2,149.0L647.8,148.5L649.3,148.0L650.8,147.6L652.3,147.2L653.9,146.8L655.5,146.4L657.1,145.9L658.6,145.5L660.2,145.1L661.8,144.6L663.4,144.2L665.0,143.8L666.5,143.4L668.0,143.1L669.5,142.8L671.0,142.5L672.5,142.1L674.0,141.8L675.5,141.5L677.0,141.3L678.5,141.0L680.0,140.7L681.5,140.4L683.0,140.1L684.5,139.8L686.0,139.5L687.5,139.2L689.0,138.9L690.6,138.6L692.1,138.3L693.6,138.0L695.1,137.7L696.7,137.4L698.2,137.1" stroke="#f4f0a0" stroke-width="10.00"/>
<path d="M692.1,138.3L693.6,138.0L695.1,137.7L696.7,137.4L698.2,137.1L699.7,136.8L701.2,136.5L702.7,136.2L704.3,135.8L705.8,135.5L707.3,135.2L708.8,134.9L710.3,134.6" stroke="#706c48" stroke-width="12.80"/><path d="M689.0,138.9L690.6,138.6L692.1,138.3L693.6,138.0L695.1,137.7L696.7,137.4L698.2,137.1L699.7,136.8L701.2,136.5L702.7,136.2L704.3,135.8L705.8,135.5L707.3,135.2L708.8,134.9L710.3,134.6L711.7,134.2" stroke="#f4f0a0" stroke-width="10.40"/>
<path d="M582.0,417.8L583.7,417.4L585.3,416.9L587.0,416.5L588.7,416.0L590.3,415.5L592.0,415.0L593.6,414.5L595.1,414.0L596.7,413.4L598.2,412.8L599.8,412.2L601.3,411.6L602.8,411.0L604.3,410.3L605.8,409.6L607.2,408.9" stroke="#706c48" stroke-width="12.40"/><path d="M577.0,419.2L578.7,418.7L580.3,418.3L582.0,417.8L583.7,417.4L585.3,416.9L587.0,416.5L588.7,416.0L590.3,415.5L592.0,415.0L593.6,414.5L595.1,414.0L596.7,413.4L598.2,412.8L599.8,412.2L601.3,411.6L602.8,411.0L604.3,410.3L605.8,409.6L607.2,408.9L608.7,408.1L610.1,407.3" stroke="#f4f0a0" stroke-width="10.00"/>
<path d="M604.3,410.3L605.8,409.6L607.2,408.9L608.7,408.1L610.1,407.3L611.6,406.6L613.0,405.8L614.6,405.0L616.2,404.3L617.8,403.6L619.3,402.9L620.7,401.9L622.0,400.8L623.0,399.3L623.8,397.6L625.0,396.2L626.3,395.5L627.8,395.2" stroke="#706c48" stroke-width="12.80"/><path d="M601.3,411.6L602.8,411.0L604.3,410.3L605.8,409.6L607.2,408.9L608.7,408.1L610.1,407.3L611.6,406.6L613.0,405.8L614.6,405.0L616.2,404.3L617.8,403.6L619.3,402.9L620.7,401.9L622.0,400.8L623.0,399.3L623.8,397.6L625.0,396.2L626.3,395.5L627.8,395.2L629.4,394.9" stroke="#f4f0a0" stroke-width="10.40"/>
<path d="M688.5,378.1L690.0,377.9L691.5,377.7L693.4,377.5L695.3,377.3L697.1,377.3L698.9,377.4L700.7,377.6L702.4,377.9L704.2,378.3L705.9,378.8L707.6,379.4L709.1,380.1L710.7,380.9L712.2,381.8L713.6,382.8L715.0,383.9L716.3,385.1L717.5,386.3L718.7,387.6L719.7,389.0L720.6,390.3L721.4,391.7L722.1,393.2L722.7,394.7L723.1,396.3L723.4,398.0L723.5,399.6L723.5,401.3L723.4,402.9L723.1,405.1L722.5,407.2L721.3,409.0L719.8,410.6L717.9,411.8L715.8,412.6L714.2,412.9L712.5,413.0" stroke="#706c48" stroke-width="12.80"/><path d="M687.0,378.4L688.5,378.1L690.0,377.9L691.5,377.7L693.4,377.5L695.3,377.3L697.1,377.3L698.9,377.4L700.7,377.6L702.4,377.9L704.2,378.3L705.9,378.8L707.6,379.4L709.1,380.1L710.7,380.9L712.2,381.8L713.6,382.8L715.0,383.9L716.3,385.1L717.5,386.3L718.7,387.6L719.7,389.0L720.6,390.3L721.4,391.7L722.1,393.2L722.7,394.7L723.1,396.3L723.4,398.0L723.5,399.6L723.5,401.3L723.4,402.9L723.1,405.1L722.5,407.2L721.3,409.0L719.8,410.6L717.9,411.8L715.8,412.6L714.2,412.9L712.5,413.0L710.8,412.9" stroke="#f4f0a0" stroke-width="10.40"/>
<path d="M637.4,414.9L639.1,414.8L640.8,414.7L642.6,414.6L644.4,414.5L646.2,414.3L647.9,414.1L649.7,413.9L651.5,413.6L653.3,413.2L655.1,412.8L656.9,412.4L658.6,411.8L660.4,411.2L662.1,410.7L663.7,410.2L665.2,409.7L666.7,409.2L668.3,408.8L669.8,408.3L671.3,407.9L672.9,407.5L674.4,407.1L676.0,406.6L677.5,406.2L679.1,405.8L680.7,405.3L682.2,404.9L683.8,404.4L685.4,404.0L687.0,403.5L688.5,403.1L690.0,402.7L691.5,402.3L693.0,402.0L694.6,401.7L696.1,401.4L697.6,401.1L699.2,400.8L700.8,400.6L702.4,400.4L704.0,400.1L705.6,399.9L707.1,399.7L708.7,399.4L710.3,399.2L711.9,399.0L713.8,398.7L715.7,398.4" stroke="#706c48" stroke-width="12.80"/><path d="M635.6,414.9L637.4,414.9L639.1,414.8L640.8,414.7L642.6,414.6L644.4,414.5L646.2,414.3L647.9,414.1L649.7,413.9L651.5,413.6L653.3,413.2L655.1,412.8L656.9,412.4L658.6,411.8L660.4,411.2L662.1,410.7L663.7,410.2L665.2,409.7L666.7,409.2L668.3,408.8L669.8,408.3L671.3,407.9L672.9,407.5L674.4,407.1L676.0,406.6L677.5,406.2L679.1,405.8L680.7,405.3L682.2,404.9L683.8,404.4L685.4,404.0L687.0,403.5L688.5,403.1L690.0,402.7L691.5,402.3L693.0,402.0L694.6,401.7L696.1,401.4L697.6,401.1L699.2,400.8L700.8,400.6L702.4,400.4L704.0,400.1L705.6,399.9L707.1,399.7L708.7,399.4L710.3,399.2L711.9,399.0L713.8,398.7L715.7,398.4L717.7,398.2" stroke="#f4f0a0" stroke-width="10.40"/>
<path d="M596.2,385.0L597.8,385.2L599.3,385.3L600.9,385.4L602.5,385.5" stroke="#706c48" stroke-width="12.00"/><path d="M594.7,384.9L596.2,385.0L597.8,385.2L599.3,385.3L600.9,385.4L602.5,385.5L604.1,385.6L605.6,385.7" stroke="#f4f0a0" stroke-width="9.60"/>
<path d="M599.3,385.3L600.9,385.4L602.5,385.5L604.1,385.6L605.6,385.7L607.2,385.8L608.8,385.8L610.4,385.8" stroke="#706c48" stroke-width="12.40"/><path d="M596.2,385.0L597.8,385.2L599.3,385.3L600.9,385.4L602.5,385.5L604.1,385.6L605.6,385.7L607.2,385.8L608.8,385.8L610.4,385.8L612.0,385.8L613.7,385.8" stroke="#f4f0a0" stroke-width="10.00"/>
<path d="M607.2,385.8L608.8,385.8L610.4,385.8L612.0,385.8L613.7,385.8L615.4,385.7L617.0,385.6L618.7,385.5L620.4,385.3L622.0,385.0L623.5,384.7L625.0,384.3" stroke="#706c48" stroke-width="12.80"/><path d="M604.1,385.6L605.6,385.7L607.2,385.8L608.8,385.8L610.4,385.8L612.0,385.8L613.7,385.8L615.4,385.7L617.0,385.6L618.7,385.5L620.4,385.3L622.0,385.0L623.5,384.7L625.0,384.3L626.5,383.8" stroke="#f4f0a0" stroke-width="10.40"/>
<path d="M686.6,366.7L688.3,366.4L690.0,366.2L691.8,366.0L693.7,365.8L695.5,365.7L697.3,365.7L699.1,365.8L701.0,365.9L702.9,366.2L704.7,366.5L706.5,366.9L708.3,367.4L710.1,367.9L711.8,368.6L713.2,369.2L714.6,369.8L715.9,370.5L717.2,371.3L718.5,372.1L720.0,373.1L721.5,374.2L722.9,375.4L724.3,376.7L725.6,378.0L726.8,379.3L728.0,380.7L729.1,382.2L730.0,383.4L730.8,384.7L731.6,386.1L732.3,387.4L732.9,388.8L733.4,390.3L733.9,391.8L734.3,393.3L734.6,394.9L734.9,396.4L735.0,398.0L735.1,399.5L735.1,401.1L735.1,402.6L734.9,404.2L734.7,405.8L734.4,407.4L734.1,409.0L733.6,410.6L733.0,412.1L732.3,413.5L731.4,414.8L730.5,416.1L729.5,417.3L728.4,418.5L727.2,419.5L725.9,420.5L724.6,421.3L723.2,422.1L721.7,422.8L720.2,423.3L718.7,423.8L716.9,424.2L715.2,424.5" stroke="#706c48" stroke-width="12.80"/><path d="M684.9,367.0L686.6,366.7L688.3,366.4L690.0,366.2L691.8,366.0L693.7,365.8L695.5,365.7L697.3,365.7L699.1,365.8L701.0,365.9L702.9,366.2L704.7,366.5L706.5,366.9L708.3,367.4L710.1,367.9L711.8,368.6L713.2,369.2L714.6,369.8L715.9,370.5L717.2,371.3L718.5,372.1L720.0,373.1L721.5,374.2L722.9,375.4L724.3,376.7L725.6,378.0L726.8,379.3L728.0,380.7L729.1,382.2L730.0,383.4L730.8,384.7L731.6,386.1L732.3,387.4L732.9,388.8L733.4,390.3L733.9,391.8L734.3,393.3L734.6,394.9L734.9,396.4L735.0,398.0L735.1,399.5L735.1,401.1L735.1,402.6L734.9,404.2L734.7,405.8L734.4,407.4L734.1,409.0L733.6,410.6L733.0,412.1L732.3,413.5L731.4,414.8L730.5,416.1L729.5,417.3L728.4,418.5L727.2,419.5L725.9,420.5L724.6,421.3L723.2,422.1L721.7,422.8L720.2,423.3L718.7,423.8L716.9,424.2L715.2,424.5L713.4,424.6" stroke="#f4f0a0" stroke-width="10.40"/>
<path d="M637.1,403.3L638.7,403.2L640.3,403.2L641.8,403.1L643.4,403.0L644.9,402.8L646.4,402.6L647.9,402.4L649.4,402.2L650.9,401.9L652.3,401.6L653.9,401.1L655.4,400.7L657.0,400.2L658.5,399.7L660.1,399.1L661.8,398.6L663.4,398.1L665.1,397.6L666.6,397.2L668.2,396.7L669.8,396.3L671.3,395.9L672.9,395.5L674.4,395.0L676.0,394.6L677.5,394.2L679.1,393.7L680.7,393.2L682.3,392.8L683.9,392.3L685.5,391.9L687.2,391.4L688.9,391.0L690.6,390.6L692.2,390.3L693.9,390.0L695.6,389.7L697.3,389.4L699.0,389.1L700.6,388.9L702.3,388.7L703.9,388.4L705.5,388.2L707.0,388.0L708.6,387.7L710.1,387.5L711.7,387.3L713.2,387.1" stroke="#706c48" stroke-width="12.80"/><path d="M635.5,403.3L637.1,403.3L638.7,403.2L640.3,403.2L641.8,403.1L643.4,403.0L644.9,402.8L646.4,402.6L647.9,402.4L649.4,402.2L650.9,401.9L652.3,401.6L653.9,401.1L655.4,400.7L657.0,400.2L658.5,399.7L660.1,399.1L661.8,398.6L663.4,398.1L665.1,397.6L666.6,397.2L668.2,396.7L669.8,396.3L671.3,395.9L672.9,395.5L674.4,395.0L676.0,394.6L677.5,394.2L679.1,393.7L680.7,393.2L682.3,392.8L683.9,392.3L685.5,391.9L687.2,391.4L688.9,391.0L690.6,390.6L692.2,390.3L693.9,390.0L695.6,389.7L697.3,389.4L699.0,389.1L700.6,388.9L702.3,388.7L703.9,388.4L705.5,388.2L707.0,388.0L708.6,387.7L710.1,387.5L711.7,387.3L713.2,387.1L714.8,386.8" stroke="#f4f0a0" stroke-width="10.40"/>
<path d="M173.2,417.8L174.9,417.4L176.5,416.9L178.2,416.5L179.9,416.0L181.5,415.5L183.2,415.0L184.8,414.5L186.3,414.0L187.9,413.4L189.4,412.8L191.0,412.2L192.5,411.6L194.0,411.0L195.5,410.3L197.0,409.6L198.4,408.9" stroke="#706c48" stroke-width="12.40"/><path d="M168.2,419.2L169.9,418.7L171.5,418.3L173.2,417.8L174.9,417.4L176.5,416.9L178.2,416.5L179.9,416.0L181.5,415.5L183.2,415.0L184.8,414.5L186.3,414.0L187.9,413.4L189.4,412.8L191.0,412.2L192.5,411.6L194.0,411.0L195.5,410.3L197.0,409.6L198.4,408.9L199.9,408.1L201.3,407.3" stroke="#f4f0a0" stroke-width="10.00"/>
<path d="M195.5,410.3L197.0,409.6L198.4,408.9L199.9,408.1L201.3,407.3L202.8,406.6L204.2,405.8L205.8,405.0L207.4,404.3L209.0,403.6L210.5,402.9L211.9,401.9L213.2,400.8L214.2,399.3L215.0,397.6L216.2,396.2L217.5,395.5L219.0,395.2" stroke="#706c48" stroke-width="12.80"/><path d="M192.5,411.6L194.0,411.0L195.5,410.3L197.0,409.6L198.4,408.9L199.9,408.1L201.3,407.3L202.8,406.6L204.2,405.8L205.8,405.0L207.4,404.3L209.0,403.6L210.5,402.9L211.9,401.9L213.2,400.8L214.2,399.3L215.0,397.6L216.2,396.2L217.5,395.5L219.0,395.2L220.6,394.9" stroke="#f4f0a0" stroke-width="10.40"/>
<path d="M279.7,378.1L281.2,377.9L282.7,377.7L284.6,377.5L286.5,377.3L288.3,377.3L290.1,377.4L291.9,377.6L293.6,377.9L295.4,378.3L297.1,378.8L298.8,379.4L300.3,380.1L301.9,380.9L303.4,381.8L304.8,382.8L306.2,383.9L307.5,385.1L308.7,386.3L309.9,387.6L310.9,389.0L311.8,390.3L312.6,391.7L313.3,393.2L313.9,394.7L314.3,396.3L314.6,398.0L314.7,399.6L314.7,401.3L314.6,402.9L314.3,405.1L313.7,407.2L312.5,409.0L311.0,410.6L309.1,411.8L307.0,412.6L305.4,412.9L303.7,413.0" stroke="#706c48" stroke-width="12.80"/><path d="M278.2,378.4L279.7,378.1L281.2,377.9L282.7,377.7L284.6,377.5L286.5,377.3L288.3,377.3L290.1,377.4L291.9,377.6L293.6,377.9L295.4,378.3L297.1,378.8L298.8,379.4L300.3,380.1L301.9,380.9L303.4,381.8L304.8,382.8L306.2,383.9L307.5,385.1L308.7,386.3L309.9,387.6L310.9,389.0L311.8,390.3L312.6,391.7L313.3,393.2L313.9,394.7L314.3,396.3L314.6,398.0L314.7,399.6L314.7,401.3L314.6,402.9L314.3,405.1L313.7,407.2L312.5,409.0L311.0,410.6L309.1,411.8L307.0,412.6L305.4,412.9L303.7,413.0L302.0,412.9" stroke="#f4f0a0" stroke-width="10.40"/>
<path d="M228.6,414.9L230.3,414.8L232.0,414.7L233.8,414.6L235.6,414.5L237.4,414.3L239.1,414.1L240.9,413.9L242.7,413.6L244.5,413.2L246.3,412.8L248.1,412.4L249.8,411.8L251.6,411.2L253.3,410.7L254.9,410.2L256.4,409.7L257.9,409.2L259.5,408.8L261.0,408.3L262.5,407.9L264.1,407.5L265.6,407.1L267.2,406.6L268.7,406.2L270.3,405.8L271.9,405.3L273.4,404.9L275.0,404.4L276.6,404.0L278.2,403.5L279.7,403.1L281.2,402.7L282.7,402.3L284.2,402.0L285.8,401.7L287.3,401.4L288.8,401.1L290.3,400.9L292.0,400.6L293.6,400.4L295.2,400.2L296.8,399.9L298.4,399.7L300.1,399.4L301.6,399.1L303.2,398.7L304.8,398.3L306.3,397.9L307.9,397.4L309.4,397.0L311.0,396.6L312.5,396.2L314.0,395.9" stroke="#706c48" stroke-width="12.80"/><path d="M226.8,414.9L228.6,414.9L230.3,414.8L232.0,414.7L233.8,414.6L235.6,414.5L237.4,414.3L239.1,414.1L240.9,413.9L242.7,413.6L244.5,413.2L246.3,412.8L248.1,412.4L249.8,411.8L251.6,411.2L253.3,410.7L254.9,410.2L256.4,409.7L257.9,409.2L259.5,408.8L261.0,408.3L262.5,407.9L264.1,407.5L265.6,407.1L267.2,406.6L268.7,406.2L270.3,405.8L271.9,405.3L273.4,404.9L275.0,404.4L276.6,404.0L278.2,403.5L279.7,403.1L281.2,402.7L282.7,402.3L284.2,402.0L285.8,401.7L287.3,401.4L288.8,401.1L290.3,400.9L292.0,400.6L293.6,400.4L295.2,400.2L296.8,399.9L298.4,399.7L300.1,399.4L301.6,399.1L303.2,398.7L304.8,398.3L306.3,397.9L307.9,397.4L309.4,397.0L311.0,396.6L312.5,396.2L314.0,395.9L315.5,395.6" stroke="#f4f0a0" stroke-width="10.40"/>
<path d="M187.4,385.0L189.0,385.2L190.5,385.3L192.1,385.4L193.7,385.5" stroke="#706c48" stroke-width="12.00"/><path d="M185.9,384.9L187.4,385.0L189.0,385.2L190.5,385.3L192.1,385.4L193.7,385.5L195.3,385.6L196.8,385.7" stroke="#f4f0a0" stroke-width="9.60"/>
<path d="M190.5,385.3L192.1,385.4L193.7,385.5L195.3,385.6L196.8,385.7L198.4,385.8L200.0,385.8L201.6,385.8" stroke="#706c48" stroke-width="12.40"/><path d="M187.4,385.0L189.0,385.2L190.5,385.3L192.1,385.4L193.7,385.5L195.3,385.6L196.8,385.7L198.4,385.8L200.0,385.8L201.6,385.8L203.2,385.8L204.9,385.8" stroke="#f4f0a0" stroke-width="10.00"/>
<path d="M198.4,385.8L200.0,385.8L201.6,385.8L203.2,385.8L204.9,385.8L206.6,385.7L208.2,385.6L209.9,385.5L211.6,385.3L213.2,385.0L214.7,384.7L216.2,384.3" stroke="#706c48" stroke-width="12.80"/><path d="M195.3,385.6L196.8,385.7L198.4,385.8L200.0,385.8L201.6,385.8L203.2,385.8L204.9,385.8L206.6,385.7L208.2,385.6L209.9,385.5L211.6,385.3L213.2,385.0L214.7,384.7L216.2,384.3L217.7,383.8" stroke="#f4f0a0" stroke-width="10.40"/>
<path d="M277.8,366.7L279.5,366.4L281.2,366.2L283.0,366.0L284.9,365.8L286.7,365.7L288.5,365.7L290.3,365.8L292.2,365.9L294.1,366.2L295.9,366.5L297.7,366.9L299.5,367.4L301.3,367.9L303.0,368.6L304.4,369.2L305.8,369.8L307.1,370.5L308.4,371.3L309.7,372.1L311.2,373.1L312.7,374.2L314.1,375.4L315.5,376.7L316.8,378.0L318.0,379.3L319.2,380.7L320.3,382.2L321.2,383.4L322.0,384.7L322.8,386.1L323.5,387.4L324.1,388.8L324.6,390.3L325.1,391.8L325.5,393.3L325.8,394.9L326.1,396.4L326.2,398.0L326.3,399.5L326.3,401.1L326.3,402.6L326.1,404.2L325.9,405.8L325.6,407.4L325.3,409.0L324.8,410.6L324.2,412.1L323.5,413.5L322.6,414.8L321.7,416.1L320.7,417.3L319.6,418.5L318.4,419.5L317.1,420.5L315.8,421.3L314.4,422.1L312.9,422.8L311.4,423.3L309.9,423.8L308.1,424.2L306.4,424.5" stroke="#706c48" stroke-width="12.80"/><path d="M276.1,367.0L277.8,366.7L279.5,366.4L281.2,366.2L283.0,366.0L284.9,365.8L286.7,365.7L288.5,365.7L290.3,365.8L292.2,365.9L294.1,366.2L295.9,366.5L297.7,366.9L299.5,367.4L301.3,367.9L303.0,368.6L304.4,369.2L305.8,369.8L307.1,370.5L308.4,371.3L309.7,372.1L311.2,373.1L312.7,374.2L314.1,375.4L315.5,376.7L316.8,378.0L318.0,379.3L319.2,380.7L320.3,382.2L321.2,383.4L322.0,384.7L322.8,386.1L323.5,387.4L324.1,388.8L324.6,390.3L325.1,391.8L325.5,393.3L325.8,394.9L326.1,396.4L326.2,398.0L326.3,399.5L326.3,401.1L326.3,402.6L326.1,404.2L325.9,405.8L325.6,407.4L325.3,409.0L324.8,410.6L324.2,412.1L323.5,413.5L322.6,414.8L321.7,416.1L320.7,417.3L319.6,418.5L318.4,419.5L317.1,420.5L315.8,421.3L314.4,422.1L312.9,422.8L311.4,423.3L309.9,423.8L308.1,424.2L306.4,424.5L304.6,424.6" stroke="#f4f0a0" stroke-width="10.40"/>
<path d="M228.3,403.3L229.9,403.2L231.5,403.2L233.0,403.1L234.6,403.0L236.1,402.8L237.6,402.6L239.1,402.4L240.6,402.2L242.1,401.9L243.5,401.6L245.1,401.1L246.6,400.7L248.2,400.2L249.7,399.7L251.3,399.1L253.0,398.6L254.6,398.1L256.3,397.6L257.8,397.2L259.4,396.7L261.0,396.3L262.5,395.9L264.1,395.5L265.6,395.0L267.1,394.6L268.7,394.3L270.3,394.1L271.8,393.9L273.4,393.7L275.0,393.5L276.5,393.3L278.0,392.9L279.5,392.3L280.8,391.6" stroke="#706c48" stroke-width="12.80"/><path d="M226.7,403.3L228.3,403.3L229.9,403.2L231.5,403.2L233.0,403.1L234.6,403.0L236.1,402.8L237.6,402.6L239.1,402.4L240.6,402.2L242.1,401.9L243.5,401.6L245.1,401.1L246.6,400.7L248.2,400.2L249.7,399.7L251.3,399.1L253.0,398.6L254.6,398.1L256.3,397.6L257.8,397.2L259.4,396.7L261.0,396.3L262.5,395.9L264.1,395.5L265.6,395.0L267.1,394.6L268.7,394.3L270.3,394.1L271.8,393.9L273.4,393.7L275.0,393.5L276.5,393.3L278.0,392.9L279.5,392.3L280.8,391.6L282.1,390.8L283.3,389.9" stroke="#f4f0a0" stroke-width="10.40"/>
<path d="M278.0,392.9L279.5,392.3L280.8,391.6L282.1,390.8L283.3,389.9L284.6,389.1L285.8,388.2L287.0,387.4L288.3,386.5" stroke="#706c48" stroke-width="12.40"/><path d="M275.0,393.5L276.5,393.3L278.0,392.9L279.5,392.3L280.8,391.6L282.1,390.8L283.3,389.9L284.6,389.1L285.8,388.2L287.0,387.4L288.3,386.5L289.5,385.6" stroke="#f4f0a0" stroke-width="10.00"/>
<polygon points="659.4,138.2 660.4,138.0 661.4,137.8 662.4,137.5 663.5,137.3 664.5,137.0 665.5,136.8 666.5,136.5 667.6,136.1 668.6,135.8 669.6,135.4 670.6,135.1 671.6,134.7 672.6,134.4 673.6,134.0 674.6,133.7 675.6,133.4 676.6,133.1 677.6,132.8 678.6,132.5 679.6,132.1 680.6,131.8 681.7,131.4 682.7,131.1 683.7,130.7 684.7,130.3 685.7,129.9 686.7,129.6 687.7,129.2 688.7,128.8 687.3,125.2 686.3,125.6 685.3,125.9 684.3,126.3 683.3,126.7 682.3,127.1 681.3,127.5 680.4,127.8 679.4,128.2 678.4,128.5 677.4,128.9 676.4,129.2 675.4,129.5 674.4,129.8 673.4,130.2 672.4,130.5 671.4,130.8 670.4,131.2 669.4,131.6 668.4,131.9 667.4,132.3 666.4,132.6 665.5,132.9 664.5,133.2 663.5,133.5 662.6,133.7 661.6,134.0 660.6,134.2 659.6,134.5 658.6,134.8" fill="#1c1c1a"/>
<path d="M630.9,100.8L632.0,101.8L633.2,102.8L634.3,103.8L635.5,104.8L636.6,105.9L637.8,106.9L639.0,108.0L640.1,109.1L641.3,110.2L642.5,111.3L643.7,112.4L644.8,113.4L646.0,114.5L647.2,115.5L648.4,116.6L649.5,117.6L650.6,118.6L651.8,119.6L652.9,120.6L654.1,121.6L655.2,122.6L656.4,123.6L657.6,124.7L658.7,125.7L659.9,126.7L661.1,127.7L662.6,129.0L664.1,130.3L665.5,131.6L666.9,132.9L668.2,134.3L669.5,135.7L670.5,136.9L671.4,138.1L672.4,139.4L673.4,140.7L674.5,142.0L675.7,143.4L676.9,144.7L678.2,146.0L679.4,147.1L680.6,148.2L681.9,149.3L683.2,150.3L684.6,151.3L686.0,152.4L687.4,153.3L688.9,154.2L690.6,155.0L692.3,155.8L694.0,156.4L695.8,157.0L697.5,157.5L699.3,157.8L701.1,158.1L702.9,158.4L704.5,158.6L706.2,158.7L707.8,158.9L709.5,158.9L711.0,159.0L712.5,159.0L714.0,159.1L715.5,159.0L717.0,158.8" stroke="#706c48" stroke-width="12.00"/><path d="M629.8,99.8L630.9,100.8L632.0,101.8L633.2,102.8L634.3,103.8L635.5,104.8L636.6,105.9L637.8,106.9L639.0,108.0L640.1,109.1L641.3,110.2L642.5,111.3L643.7,112.4L644.8,113.4L646.0,114.5L647.2,115.5L648.4,116.6L649.5,117.6L650.6,118.6L651.8,119.6L652.9,120.6L654.1,121.6L655.2,122.6L656.4,123.6L657.6,124.7L658.7,125.7L659.9,126.7L661.1,127.7L662.6,129.0L664.1,130.3L665.5,131.6L666.9,132.9L668.2,134.3L669.5,135.7L670.5,136.9L671.4,138.1L672.4,139.4L673.4,140.7L674.5,142.0L675.7,143.4L676.9,144.7L678.2,146.0L679.4,147.1L680.6,148.2L681.9,149.3L683.2,150.3L684.6,151.3L686.0,152.4L687.4,153.3L688.9,154.2L690.6,155.0L692.3,155.8L694.0,156.4L695.8,157.0L697.5,157.5L699.3,157.8L701.1,158.1L702.9,158.4L704.5,158.6L706.2,158.7L707.8,158.9L709.5,158.9L711.0,159.0L712.5,159.0L714.0,159.1L715.5,159.0L717.0,158.8L718.7,158.3L720.4,157.8L722.0,157.1" stroke="#f4f0a0" stroke-width="9.60"/>
<path d="M640.8,117.5L639.3,118.1L637.7,118.6L636.1,119.0L634.6,119.4L633.0,119.7L631.4,120.0L629.8,120.2L628.2,120.4L626.6,120.6L625.0,120.8L623.4,121.0L621.8,121.1L620.2,121.2L618.7,121.3L617.1,121.4L615.5,121.4L613.9,121.5L612.3,121.5L610.6,121.5L609.0,121.6L607.3,121.6L605.7,121.6L604.0,121.6L602.5,121.6L601.0,121.5L599.5,121.5L598.0,121.4L596.4,121.3L594.9,121.2" stroke="#706c48" stroke-width="12.40"/><path d="M642.3,116.9L640.8,117.5L639.3,118.1L637.7,118.6L636.1,119.0L634.6,119.4L633.0,119.7L631.4,120.0L629.8,120.2L628.2,120.4L626.6,120.6L625.0,120.8L623.4,121.0L621.8,121.1L620.2,121.2L618.7,121.3L617.1,121.4L615.5,121.4L613.9,121.5L612.3,121.5L610.6,121.5L609.0,121.6L607.3,121.6L605.7,121.6L604.0,121.6L602.5,121.6L601.0,121.5L599.5,121.5L598.0,121.4L596.4,121.3L594.9,121.2L593.4,121.2L591.9,121.1" stroke="#f4f0a0" stroke-width="10.00"/>
<path d="M598.0,121.4L596.4,121.3L594.9,121.2L593.4,121.2L591.9,121.1L590.4,121.0L588.8,120.9L587.3,120.8L585.8,120.7L584.2,120.6L582.7,120.6L581.1,120.5L579.6,120.4L578.0,120.3L576.5,120.2L574.9,120.1L573.4,120.1L571.8,120.0L570.3,120.0L568.8,119.9L567.3,119.9L565.7,119.8L564.2,119.8L562.7,119.8L561.2,119.8L559.7,119.7L558.2,119.7L556.6,119.7L555.1,119.7L553.6,119.8L552.1,119.8L550.6,119.8L549.1,119.9L547.5,119.9L546.0,120.0L544.5,120.1L543.0,120.2L541.5,120.3L540.0,120.4L538.5,120.5L537.0,120.7L535.5,120.8L534.0,121.0L532.5,121.1L531.0,121.3L529.5,121.5L528.0,121.7L526.5,121.9L525.0,122.2L523.5,122.5L521.9,122.7L520.4,123.0L518.8,123.3L517.3,123.6L515.7,123.9L514.2,124.3L512.7,124.7L511.3,125.2L509.8,125.7L508.4,126.4L507.0,127.2L505.5,128.0L504.1,128.8L502.8,129.7L501.5,130.7L500.3,131.8L499.0,133.0L497.8,134.4L496.7,135.8L495.8,137.3L495.1,139.1L494.6,140.9L494.5,142.8" stroke="#706c48" stroke-width="12.80"/><path d="M601.0,121.5L599.5,121.5L598.0,121.4L596.4,121.3L594.9,121.2L593.4,121.2L591.9,121.1L590.4,121.0L588.8,120.9L587.3,120.8L585.8,120.7L584.2,120.6L582.7,120.6L581.1,120.5L579.6,120.4L578.0,120.3L576.5,120.2L574.9,120.1L573.4,120.1L571.8,120.0L570.3,120.0L568.8,119.9L567.3,119.9L565.7,119.8L564.2,119.8L562.7,119.8L561.2,119.8L559.7,119.7L558.2,119.7L556.6,119.7L555.1,119.7L553.6,119.8L552.1,119.8L550.6,119.8L549.1,119.9L547.5,119.9L546.0,120.0L544.5,120.1L543.0,120.2L541.5,120.3L540.0,120.4L538.5,120.5L537.0,120.7L535.5,120.8L534.0,121.0L532.5,121.1L531.0,121.3L529.5,121.5L528.0,121.7L526.5,121.9L525.0,122.2L523.5,122.5L521.9,122.7L520.4,123.0L518.8,123.3L517.3,123.6L515.7,123.9L514.2,124.3L512.7,124.7L511.3,125.2L509.8,125.7L508.4,126.4L507.0,127.2L505.5,128.0L504.1,128.8L502.8,129.7L501.5,130.7L500.3,131.8L499.0,133.0L497.8,134.4L496.7,135.8L495.8,137.3L495.1,139.1L494.6,140.9L494.5,142.8L494.9,144.8L495.7,146.6L496.8,148.3" stroke="#f4f0a0" stroke-width="10.40"/>
<path d="M715.1,147.9L713.5,148.1L711.8,148.0L710.1,147.9L708.2,147.8L706.2,147.7L704.2,147.5L702.4,147.2L700.6,146.9L698.8,146.4L697.2,145.9L695.7,145.3L694.3,144.6L692.8,143.7L691.4,142.7L690.0,141.7L688.6,140.5L687.2,139.3L685.8,138.0L684.5,136.6L683.2,135.2L682.0,133.8L680.9,132.5L679.9,131.2L678.9,129.8L677.9,128.6L676.7,127.3L675.5,126.0L674.3,124.8L673.0,123.5L671.9,122.5L670.7,121.4L669.5,120.4L668.2,119.3L667.1,118.3L665.9,117.3L664.8,116.4L663.6,115.4L662.5,114.4L661.4,113.4L660.2,112.3L659.1,111.3L657.9,110.3L656.8,109.3L655.7,108.3L654.5,107.3L653.4,106.3L652.2,105.3L650.9,104.1L649.6,102.8" stroke="#706c48" stroke-width="12.00"/><path d="M720.1,145.3L718.8,146.3L717.0,147.3L715.1,147.9L713.5,148.1L711.8,148.0L710.1,147.9L708.2,147.8L706.2,147.7L704.2,147.5L702.4,147.2L700.6,146.9L698.8,146.4L697.2,145.9L695.7,145.3L694.3,144.6L692.8,143.7L691.4,142.7L690.0,141.7L688.6,140.5L687.2,139.3L685.8,138.0L684.5,136.6L683.2,135.2L682.0,133.8L680.9,132.5L679.9,131.2L678.9,129.8L677.9,128.6L676.7,127.3L675.5,126.0L674.3,124.8L673.0,123.5L671.9,122.5L670.7,121.4L669.5,120.4L668.2,119.3L667.1,118.3L665.9,117.3L664.8,116.4L663.6,115.4L662.5,114.4L661.4,113.4L660.2,112.3L659.1,111.3L657.9,110.3L656.8,109.3L655.7,108.3L654.5,107.3L653.4,106.3L652.2,105.3L650.9,104.1L649.6,102.8L648.3,101.6L646.9,100.5" stroke="#f4f0a0" stroke-width="9.60"/>
<path d="M652.2,105.3L650.9,104.1L649.6,102.8L648.3,101.6L646.9,100.5L645.5,99.4L644.1,98.3L642.6,97.3L641.1,96.4L639.5,95.6L637.9,95.0L636.2,94.5L634.5,94.2L632.8,94.0L631.0,94.0L629.3,94.3L627.5,94.6L625.7,95.0L623.9,95.5L622.2,96.1L620.5,96.8L619.0,97.5L617.6,98.2L616.2,99.0L614.9,99.9L613.4,101.0L612.0,102.2L610.7,103.4L609.5,104.8L608.6,106.1L607.7,107.5L607.0,109.0L606.4,110.5L605.8,112.0L605.3,113.6L604.9,115.3" stroke="#706c48" stroke-width="12.40"/><path d="M654.5,107.3L653.4,106.3L652.2,105.3L650.9,104.1L649.6,102.8L648.3,101.6L646.9,100.5L645.5,99.4L644.1,98.3L642.6,97.3L641.1,96.4L639.5,95.6L637.9,95.0L636.2,94.5L634.5,94.2L632.8,94.0L631.0,94.0L629.3,94.3L627.5,94.6L625.7,95.0L623.9,95.5L622.2,96.1L620.5,96.8L619.0,97.5L617.6,98.2L616.2,99.0L614.9,99.9L613.4,101.0L612.0,102.2L610.7,103.4L609.5,104.8L608.6,106.1L607.7,107.5L607.0,109.0L606.4,110.5L605.8,112.0L605.3,113.6L604.9,115.3L604.6,117.0" stroke="#f4f0a0" stroke-width="10.00"/>
<path d="M715.8,412.6L714.2,412.9L712.5,413.0L710.8,412.9L709.0,412.7L707.2,412.2L705.4,411.6L703.5,411.0L701.7,410.4L699.9,409.6L698.2,408.9L696.6,408.1L695.0,407.2L693.4,406.3L691.8,405.3L690.3,404.2L688.8,403.1L687.3,402.0L685.9,400.7L684.5,399.4L683.1,398.1L681.8,396.7L680.7,395.5L679.6,394.3L678.6,393.0L677.5,391.8L676.4,390.6L675.2,389.4L674.1,388.2L672.9,387.0L671.8,385.9L670.6,384.9L669.5,383.8L668.4,382.8L667.3,381.8L666.2,380.8L665.0,379.8L663.9,378.7L662.5,377.4L661.0,376.0L659.6,374.6L658.4,373.6L657.3,372.5L656.1,371.4L654.9,370.4L653.7,369.4L652.5,368.4L651.3,367.4L650.0,366.5L648.7,365.4L647.3,364.4L646.0,363.4L644.5,362.5L643.2,361.7L641.8,361.1L640.4,360.5L638.9,359.9L637.5,359.4L635.9,359.0L634.3,358.7L632.7,358.4L631.1,358.2L629.5,358.2L627.8,358.2L626.1,358.3L624.4,358.6L622.7,358.9L621.1,359.3L619.4,359.9L617.8,360.6L616.2,361.4L614.7,362.3L613.2,363.3L611.9,364.3L610.8,365.4" stroke="#706c48" stroke-width="12.80"/><path d="M721.3,409.0L719.8,410.6L717.9,411.8L715.8,412.6L714.2,412.9L712.5,413.0L710.8,412.9L709.0,412.7L707.2,412.2L705.4,411.6L703.5,411.0L701.7,410.4L699.9,409.6L698.2,408.9L696.6,408.1L695.0,407.2L693.4,406.3L691.8,405.3L690.3,404.2L688.8,403.1L687.3,402.0L685.9,400.7L684.5,399.4L683.1,398.1L681.8,396.7L680.7,395.5L679.6,394.3L678.6,393.0L677.5,391.8L676.4,390.6L675.2,389.4L674.1,388.2L672.9,387.0L671.8,385.9L670.6,384.9L669.5,383.8L668.4,382.8L667.3,381.8L666.2,380.8L665.0,379.8L663.9,378.7L662.5,377.4L661.0,376.0L659.6,374.6L658.4,373.6L657.3,372.5L656.1,371.4L654.9,370.4L653.7,369.4L652.5,368.4L651.3,367.4L650.0,366.5L648.7,365.4L647.3,364.4L646.0,363.4L644.5,362.5L643.2,361.7L641.8,361.1L640.4,360.5L638.9,359.9L637.5,359.4L635.9,359.0L634.3,358.7L632.7,358.4L631.1,358.2L629.5,358.2L627.8,358.2L626.1,358.3L624.4,358.6L622.7,358.9L621.1,359.3L619.4,359.9L617.8,360.6L616.2,361.4L614.7,362.3L613.2,363.3L611.9,364.3L610.8,365.4L609.6,366.6" stroke="#f4f0a0" stroke-width="10.40"/>
<path d="M495.0,405.8L495.1,403.8L495.6,401.9L496.4,400.0L497.2,398.5L498.2,397.1L499.4,395.8L500.6,394.6L501.9,393.4L503.4,392.3L504.9,391.4L506.4,390.5L508.0,389.6" stroke="#706c48" stroke-width="14.00"/><path d="M496.8,411.3L495.9,409.6L495.3,407.7L495.0,405.8L495.1,403.8L495.6,401.9L496.4,400.0L497.2,398.5L498.2,397.1L499.4,395.8L500.6,394.6L501.9,393.4L503.4,392.3L504.9,391.4L506.4,390.5L508.0,389.6L509.3,388.9L510.7,388.4" stroke="#f4f0a0" stroke-width="11.60"/>
<path d="M504.9,391.4L506.4,390.5L508.0,389.6L509.3,388.9L510.7,388.4L512.1,387.8" stroke="#706c48" stroke-width="13.60"/><path d="M501.9,393.4L503.4,392.3L504.9,391.4L506.4,390.5L508.0,389.6L509.3,388.9L510.7,388.4L512.1,387.8L513.6,387.4L515.0,387.0" stroke="#f4f0a0" stroke-width="11.20"/>
<path d="M509.3,388.9L510.7,388.4L512.1,387.8L513.6,387.4L515.0,387.0L516.5,386.6L518.0,386.2" stroke="#706c48" stroke-width="13.20"/><path d="M506.4,390.5L508.0,389.6L509.3,388.9L510.7,388.4L512.1,387.8L513.6,387.4L515.0,387.0L516.5,386.6L518.0,386.2L519.5,385.9L520.9,385.6" stroke="#f4f0a0" stroke-width="10.80"/>
<path d="M515.0,387.0L516.5,386.6L518.0,386.2L519.5,385.9L520.9,385.6L522.4,385.3L523.9,385.0" stroke="#706c48" stroke-width="12.80"/><path d="M512.1,387.8L513.6,387.4L515.0,387.0L516.5,386.6L518.0,386.2L519.5,385.9L520.9,385.6L522.4,385.3L523.9,385.0L525.4,384.7L526.8,384.4" stroke="#f4f0a0" stroke-width="10.40"/>
<path d="M520.9,385.6L522.4,385.3L523.9,385.0L525.4,384.7L526.8,384.4L528.3,384.2L529.8,383.9L531.3,383.7L532.8,383.5L534.3,383.4L535.8,383.2L537.3,383.1L538.8,383.0" stroke="#706c48" stroke-width="12.40"/><path d="M518.0,386.2L519.5,385.9L520.9,385.6L522.4,385.3L523.9,385.0L525.4,384.7L526.8,384.4L528.3,384.2L529.8,383.9L531.3,383.7L532.8,383.5L534.3,383.4L535.8,383.2L537.3,383.1L538.8,383.0L540.3,382.8L541.8,382.7" stroke="#f4f0a0" stroke-width="10.00"/>
<path d="M535.8,383.2L537.3,383.1L538.8,383.0L540.3,382.8L541.8,382.7L543.3,382.7L544.8,382.6L546.3,382.5L547.8,382.4L549.3,382.4L550.8,382.3L552.4,382.2L554.0,382.2L555.5,382.2L557.1,382.1L558.7,382.1L560.3,382.1L561.9,382.1L563.5,382.2L565.0,382.2L566.6,382.2L568.2,382.3L569.8,382.3L571.4,382.4L573.0,382.5L574.5,382.6L576.1,382.7L577.7,382.8L579.2,382.9L580.8,383.1L582.3,383.2L583.9,383.4L585.4,383.6L587.0,383.8L588.5,384.1L590.0,384.3L591.6,384.5L593.1,384.7L594.7,384.9L596.2,385.0L597.8,385.2L599.3,385.3" stroke="#706c48" stroke-width="12.00"/><path d="M532.8,383.5L534.3,383.4L535.8,383.2L537.3,383.1L538.8,383.0L540.3,382.8L541.8,382.7L543.3,382.7L544.8,382.6L546.3,382.5L547.8,382.4L549.3,382.4L550.8,382.3L552.4,382.2L554.0,382.2L555.5,382.2L557.1,382.1L558.7,382.1L560.3,382.1L561.9,382.1L563.5,382.2L565.0,382.2L566.6,382.2L568.2,382.3L569.8,382.3L571.4,382.4L573.0,382.5L574.5,382.6L576.1,382.7L577.7,382.8L579.2,382.9L580.8,383.1L582.3,383.2L583.9,383.4L585.4,383.6L587.0,383.8L588.5,384.1L590.0,384.3L591.6,384.5L593.1,384.7L594.7,384.9L596.2,385.0L597.8,385.2L599.3,385.3L600.9,385.4L602.5,385.5L604.1,385.6" stroke="#f4f0a0" stroke-width="9.60"/>
<path d="M718.7,423.8L716.9,424.2L715.2,424.5L713.4,424.6L711.6,424.6L709.8,424.5L708.2,424.3L706.6,424.0L705.0,423.6L703.4,423.1L701.9,422.7L700.3,422.1L698.6,421.6L697.0,421.0L695.4,420.3L693.9,419.6L692.3,418.9L690.8,418.1L689.3,417.3L687.8,416.5L686.4,415.6L684.9,414.6L683.5,413.7L682.2,412.7L680.9,411.7L679.5,410.6L678.3,409.5L676.9,408.3L675.7,407.1L674.4,405.8L673.2,404.5L672.1,403.3L671.0,402.0L670.0,400.8L668.9,399.6L667.6,398.1L666.2,396.7L664.8,395.4L663.4,394.0L662.0,392.7L660.5,391.3L659.4,390.3L658.3,389.3L657.2,388.3L656.1,387.3L655.0,386.2L653.8,385.2L652.7,384.1L651.6,383.1L650.2,381.8L648.8,380.5L647.4,379.2L645.9,378.0L644.4,376.8L642.8,375.6L641.5,374.5L640.1,373.4L638.6,372.4L637.2,371.7L635.7,371.1L634.2,370.6L632.6,370.2L631.0,369.9L629.3,369.8L627.7,369.8L626.0,370.0L624.4,370.5L622.9,371.0L621.5,371.7L620.2,372.5L618.7,374.0L617.4,375.6" stroke="#706c48" stroke-width="12.80"/><path d="M723.2,422.1L721.7,422.8L720.2,423.3L718.7,423.8L716.9,424.2L715.2,424.5L713.4,424.6L711.6,424.6L709.8,424.5L708.2,424.3L706.6,424.0L705.0,423.6L703.4,423.1L701.9,422.7L700.3,422.1L698.6,421.6L697.0,421.0L695.4,420.3L693.9,419.6L692.3,418.9L690.8,418.1L689.3,417.3L687.8,416.5L686.4,415.6L684.9,414.6L683.5,413.7L682.2,412.7L680.9,411.7L679.5,410.6L678.3,409.5L676.9,408.3L675.7,407.1L674.4,405.8L673.2,404.5L672.1,403.3L671.0,402.0L670.0,400.8L668.9,399.6L667.6,398.1L666.2,396.7L664.8,395.4L663.4,394.0L662.0,392.7L660.5,391.3L659.4,390.3L658.3,389.3L657.2,388.3L656.1,387.3L655.0,386.2L653.8,385.2L652.7,384.1L651.6,383.1L650.2,381.8L648.8,380.5L647.4,379.2L645.9,378.0L644.4,376.8L642.8,375.6L641.5,374.5L640.1,373.4L638.6,372.4L637.2,371.7L635.7,371.1L634.2,370.6L632.6,370.2L631.0,369.9L629.3,369.8L627.7,369.8L626.0,370.0L624.4,370.5L622.9,371.0L621.5,371.7L620.2,372.5L618.7,374.0L617.4,375.6L616.4,377.5" stroke="#f4f0a0" stroke-width="10.40"/>
<path d="M307.0,412.6L305.4,412.9L303.7,413.0L302.0,412.9L300.2,412.7L298.4,412.2L296.6,411.6L294.7,411.0L292.9,410.4L291.1,409.6L289.4,408.9L287.8,408.1L286.2,407.2L284.6,406.3L283.0,405.3L281.5,404.2L280.0,403.1L278.5,402.0L277.1,400.7L275.7,399.4L274.3,398.1L273.0,396.7L271.9,395.5L270.8,394.3L269.8,393.0L268.7,391.8L267.6,390.6L266.4,389.4L265.3,388.2L264.1,387.0L263.0,385.9L261.8,384.9L260.7,383.8L259.6,382.8L258.5,381.8L257.4,380.8L256.2,379.8L255.1,378.7L253.7,377.4L252.2,376.0L250.8,374.6L249.6,373.6L248.5,372.5L247.3,371.4L246.1,370.4L244.9,369.4L243.7,368.4L242.5,367.4L241.2,366.5L239.9,365.4L238.5,364.4L237.2,363.4L235.7,362.5L234.4,361.7L233.0,361.1L231.6,360.5L230.1,359.9L228.7,359.4L227.1,359.0L225.5,358.7L223.9,358.4L222.3,358.2L220.7,358.2L219.0,358.2L217.3,358.3L215.6,358.6L213.9,358.9L212.3,359.3L210.6,359.9L209.0,360.6L207.4,361.4L205.9,362.3L204.4,363.3L203.1,364.3L202.0,365.4" stroke="#706c48" stroke-width="12.80"/><path d="M312.5,409.0L311.0,410.6L309.1,411.8L307.0,412.6L305.4,412.9L303.7,413.0L302.0,412.9L300.2,412.7L298.4,412.2L296.6,411.6L294.7,411.0L292.9,410.4L291.1,409.6L289.4,408.9L287.8,408.1L286.2,407.2L284.6,406.3L283.0,405.3L281.5,404.2L280.0,403.1L278.5,402.0L277.1,400.7L275.7,399.4L274.3,398.1L273.0,396.7L271.9,395.5L270.8,394.3L269.8,393.0L268.7,391.8L267.6,390.6L266.4,389.4L265.3,388.2L264.1,387.0L263.0,385.9L261.8,384.9L260.7,383.8L259.6,382.8L258.5,381.8L257.4,380.8L256.2,379.8L255.1,378.7L253.7,377.4L252.2,376.0L250.8,374.6L249.6,373.6L248.5,372.5L247.3,371.4L246.1,370.4L244.9,369.4L243.7,368.4L242.5,367.4L241.2,366.5L239.9,365.4L238.5,364.4L237.2,363.4L235.7,362.5L234.4,361.7L233.0,361.1L231.6,360.5L230.1,359.9L228.7,359.4L227.1,359.0L225.5,358.7L223.9,358.4L222.3,358.2L220.7,358.2L219.0,358.2L217.3,358.3L215.6,358.6L213.9,358.9L212.3,359.3L210.6,359.9L209.0,360.6L207.4,361.4L205.9,362.3L204.4,363.3L203.1,364.3L202.0,365.4L200.8,366.6" stroke="#f4f0a0" stroke-width="10.40"/>
<path d="M86.2,405.8L86.3,403.8L86.8,401.9L87.6,400.0L88.4,398.5L89.4,397.1L90.6,395.8L91.8,394.6L93.1,393.4L94.6,392.3L96.1,391.4L97.6,390.5L99.2,389.6" stroke="#706c48" stroke-width="14.00"/><path d="M88.0,411.3L87.1,409.6L86.5,407.7L86.2,405.8L86.3,403.8L86.8,401.9L87.6,400.0L88.4,398.5L89.4,397.1L90.6,395.8L91.8,394.6L93.1,393.4L94.6,392.3L96.1,391.4L97.6,390.5L99.2,389.6L100.5,388.9L101.9,388.4" stroke="#f4f0a0" stroke-width="11.60"/>
<path d="M96.1,391.4L97.6,390.5L99.2,389.6L100.5,388.9L101.9,388.4L103.3,387.8" stroke="#706c48" stroke-width="13.60"/><path d="M93.1,393.4L94.6,392.3L96.1,391.4L97.6,390.5L99.2,389.6L100.5,388.9L101.9,388.4L103.3,387.8L104.8,387.4L106.2,387.0" stroke="#f4f0a0" stroke-width="11.20"/>
<path d="M100.5,388.9L101.9,388.4L103.3,387.8L104.8,387.4L106.2,387.0L107.7,386.6L109.2,386.2" stroke="#706c48" stroke-width="13.20"/><path d="M97.6,390.5L99.2,389.6L100.5,388.9L101.9,388.4L103.3,387.8L104.8,387.4L106.2,387.0L107.7,386.6L109.2,386.2L110.7,385.9L112.1,385.6" stroke="#f4f0a0" stroke-width="10.80"/>
<path d="M106.2,387.0L107.7,386.6L109.2,386.2L110.7,385.9L112.1,385.6L113.6,385.3L115.1,385.0" stroke="#706c48" stroke-width="12.80"/><path d="M103.3,387.8L104.8,387.4L106.2,387.0L107.7,386.6L109.2,386.2L110.7,385.9L112.1,385.6L113.6,385.3L115.1,385.0L116.6,384.7L118.0,384.4" stroke="#f4f0a0" stroke-width="10.40"/>
<path d="M112.1,385.6L113.6,385.3L115.1,385.0L116.6,384.7L118.0,384.4L119.5,384.2L121.0,383.9L122.5,383.7L124.0,383.5L125.5,383.4L127.0,383.2L128.5,383.1L130.0,383.0" stroke="#706c48" stroke-width="12.40"/><path d="M109.2,386.2L110.7,385.9L112.1,385.6L113.6,385.3L115.1,385.0L116.6,384.7L118.0,384.4L119.5,384.2L121.0,383.9L122.5,383.7L124.0,383.5L125.5,383.4L127.0,383.2L128.5,383.1L130.0,383.0L131.5,382.8L133.0,382.7" stroke="#f4f0a0" stroke-width="10.00"/>
<path d="M127.0,383.2L128.5,383.1L130.0,383.0L131.5,382.8L133.0,382.7L134.5,382.7L136.0,382.6L137.5,382.5L139.0,382.4L140.5,382.4L142.0,382.3L143.6,382.2L145.2,382.2L146.7,382.2L148.3,382.1L149.9,382.1L151.5,382.1L153.1,382.1L154.7,382.2L156.2,382.2L157.8,382.2L159.4,382.3L161.0,382.3L162.6,382.4L164.2,382.5L165.7,382.6L167.3,382.7L168.9,382.8L170.4,382.9L172.0,383.1L173.5,383.2L175.1,383.4L176.6,383.6L178.2,383.8L179.7,384.1L181.2,384.3L182.8,384.5L184.3,384.7L185.9,384.9L187.4,385.0L189.0,385.2L190.5,385.3" stroke="#706c48" stroke-width="12.00"/><path d="M124.0,383.5L125.5,383.4L127.0,383.2L128.5,383.1L130.0,383.0L131.5,382.8L133.0,382.7L134.5,382.7L136.0,382.6L137.5,382.5L139.0,382.4L140.5,382.4L142.0,382.3L143.6,382.2L145.2,382.2L146.7,382.2L148.3,382.1L149.9,382.1L151.5,382.1L153.1,382.1L154.7,382.2L156.2,382.2L157.8,382.2L159.4,382.3L161.0,382.3L162.6,382.4L164.2,382.5L165.7,382.6L167.3,382.7L168.9,382.8L170.4,382.9L172.0,383.1L173.5,383.2L175.1,383.4L176.6,383.6L178.2,383.8L179.7,384.1L181.2,384.3L182.8,384.5L184.3,384.7L185.9,384.9L187.4,385.0L189.0,385.2L190.5,385.3L192.1,385.4L193.7,385.5L195.3,385.6" stroke="#f4f0a0" stroke-width="9.60"/>
<path d="M309.9,423.8L308.1,424.2L306.4,424.5L304.6,424.6L302.8,424.6L301.0,424.5L299.4,424.3L297.8,424.0L296.2,423.6L294.6,423.1L293.1,422.7L291.5,422.1L289.8,421.6L288.2,421.0L286.6,420.3L285.1,419.6L283.5,418.9L282.0,418.1L280.5,417.3L279.0,416.5L277.6,415.6L276.1,414.6L274.7,413.7L273.4,412.7L272.1,411.7L270.7,410.6L269.5,409.5L268.1,408.3L266.9,407.1L265.6,405.8L264.4,404.5L263.3,403.3L262.2,402.0L261.2,400.8L260.1,399.6L258.8,398.1L257.4,396.7L256.0,395.4L254.6,394.0L253.2,392.7L251.7,391.3L250.6,390.3L249.5,389.3L248.4,388.3L247.3,387.3L246.2,386.2L245.0,385.2L243.9,384.1L242.8,383.1L241.4,381.8L240.0,380.5L238.6,379.2L237.1,378.0L235.6,376.8L234.0,375.6L232.7,374.5L231.3,373.4L229.8,372.4L228.4,371.7L226.9,371.1L225.4,370.6L223.8,370.2L222.2,369.9L220.5,369.8L218.9,369.8L217.2,370.0L215.6,370.5L214.1,371.0L212.7,371.7L211.4,372.5L209.9,374.0L208.6,375.6" stroke="#706c48" stroke-width="12.80"/><path d="M314.4,422.1L312.9,422.8L311.4,423.3L309.9,423.8L308.1,424.2L306.4,424.5L304.6,424.6L302.8,424.6L301.0,424.5L299.4,424.3L297.8,424.0L296.2,423.6L294.6,423.1L293.1,422.7L291.5,422.1L289.8,421.6L288.2,421.0L286.6,420.3L285.1,419.6L283.5,418.9L282.0,418.1L280.5,417.3L279.0,416.5L277.6,415.6L276.1,414.6L274.7,413.7L273.4,412.7L272.1,411.7L270.7,410.6L269.5,409.5L268.1,408.3L266.9,407.1L265.6,405.8L264.4,404.5L263.3,403.3L262.2,402.0L261.2,400.8L260.1,399.6L258.8,398.1L257.4,396.7L256.0,395.4L254.6,394.0L253.2,392.7L251.7,391.3L250.6,390.3L249.5,389.3L248.4,388.3L247.3,387.3L246.2,386.2L245.0,385.2L243.9,384.1L242.8,383.1L241.4,381.8L240.0,380.5L238.6,379.2L237.1,378.0L235.6,376.8L234.0,375.6L232.7,374.5L231.3,373.4L229.8,372.4L228.4,371.7L226.9,371.1L225.4,370.6L223.8,370.2L222.2,369.9L220.5,369.8L218.9,369.8L217.2,370.0L215.6,370.5L214.1,371.0L212.7,371.7L211.4,372.5L209.9,374.0L208.6,375.6L207.6,377.5" stroke="#f4f0a0" stroke-width="10.40"/>
<circle cx="610.5" cy="84.3" r="6.00" fill="#706c48"/><circle cx="610.5" cy="84.3" r="4.80" fill="#f4f0a0"/>
<path d="M183.0,76.0L181.2,76.2L179.5,76.3L177.7,76.5L176.0,76.7L174.3,76.9L172.6,77.2L171.0,77.5" stroke="#706c48" stroke-width="12.80"/><path d="M183.0,76.0L181.2,76.2L179.5,76.3L177.7,76.5L176.0,76.7L174.3,76.9L172.6,77.2L171.0,77.5L169.3,77.8L167.6,78.1" stroke="#f4f0a0" stroke-width="10.40"/>
<path d="M174.3,76.9L172.6,77.2L171.0,77.5L169.3,77.8L167.6,78.1L165.9,78.5L164.2,78.8L162.7,79.1L161.1,79.4L159.6,79.8L158.1,80.1L156.5,80.5L155.0,80.9L153.3,81.4L151.7,81.8L150.0,82.3L148.3,82.9L146.7,83.4L145.0,83.9" stroke="#706c48" stroke-width="12.40"/><path d="M177.7,76.5L176.0,76.7L174.3,76.9L172.6,77.2L171.0,77.5L169.3,77.8L167.6,78.1L165.9,78.5L164.2,78.8L162.7,79.1L161.1,79.4L159.6,79.8L158.1,80.1L156.5,80.5L155.0,80.9L153.3,81.4L151.7,81.8L150.0,82.3L148.3,82.9L146.7,83.4L145.0,83.9L143.4,84.5L141.8,85.1" stroke="#f4f0a0" stroke-width="10.00"/>
<path d="M148.3,82.9L146.7,83.4L145.0,83.9L143.4,84.5" stroke="#706c48" stroke-width="12.00"/><path d="M151.7,81.8L150.0,82.3L148.3,82.9L146.7,83.4L145.0,83.9L143.4,84.5L141.8,85.1L140.1,85.7" stroke="#f4f0a0" stroke-width="9.60"/>
<path d="M146.7,83.4L145.0,83.9L143.4,84.5L141.8,85.1L140.1,85.7L138.5,86.3L136.9,86.9L135.4,87.6L133.8,88.3L132.2,89.0L130.7,89.7L129.3,90.4L127.9,91.1L126.6,91.8L125.2,92.5L123.8,93.3L122.5,94.0L121.2,94.8L119.8,95.5" stroke="#706c48" stroke-width="12.40"/><path d="M150.0,82.3L148.3,82.9L146.7,83.4L145.0,83.9L143.4,84.5L141.8,85.1L140.1,85.7L138.5,86.3L136.9,86.9L135.4,87.6L133.8,88.3L132.2,89.0L130.7,89.7L129.3,90.4L127.9,91.1L126.6,91.8L125.2,92.5L123.8,93.3L122.5,94.0L121.2,94.8L119.8,95.5L118.5,96.3L117.2,97.1" stroke="#f4f0a0" stroke-width="10.00"/>
<path d="M122.5,94.0L121.2,94.8L119.8,95.5L118.5,96.3L117.2,97.1L115.9,97.9L114.6,98.7L113.1,99.6L111.5,100.5L110.0,101.5" stroke="#706c48" stroke-width="12.80"/><path d="M125.2,92.5L123.8,93.3L122.5,94.0L121.2,94.8L119.8,95.5L118.5,96.3L117.2,97.1L115.9,97.9L114.6,98.7L113.1,99.6L111.5,100.5L110.0,101.5L108.5,102.4L107.0,103.4" stroke="#f4f0a0" stroke-width="10.40"/>
<path d="M113.1,99.6L111.5,100.5L110.0,101.5L108.5,102.4L107.0,103.4L105.6,104.3L104.2,105.3L102.8,106.3L101.4,107.3L100.0,108.3" stroke="#706c48" stroke-width="13.20"/><path d="M115.9,97.9L114.6,98.7L113.1,99.6L111.5,100.5L110.0,101.5L108.5,102.4L107.0,103.4L105.6,104.3L104.2,105.3L102.8,106.3L101.4,107.3L100.0,108.3L98.6,109.4L97.1,110.4" stroke="#f4f0a0" stroke-width="10.80"/>
<path d="M102.8,106.3L101.4,107.3L100.0,108.3L98.6,109.4L97.1,110.4L95.7,111.5L94.4,112.6L93.0,113.8L91.8,114.9L90.6,116.0" stroke="#706c48" stroke-width="13.60"/><path d="M105.6,104.3L104.2,105.3L102.8,106.3L101.4,107.3L100.0,108.3L98.6,109.4L97.1,110.4L95.7,111.5L94.4,112.6L93.0,113.8L91.8,114.9L90.6,116.0L89.5,117.2L88.3,118.3" stroke="#f4f0a0" stroke-width="11.20"/>
<path d="M93.0,113.8L91.8,114.9L90.6,116.0L89.5,117.2L88.3,118.3L87.2,119.5L86.1,120.7L84.9,122.0L83.8,123.3L82.8,124.6L81.7,126.2L80.7,127.9" stroke="#706c48" stroke-width="14.00"/><path d="M95.7,111.5L94.4,112.6L93.0,113.8L91.8,114.9L90.6,116.0L89.5,117.2L88.3,118.3L87.2,119.5L86.1,120.7L84.9,122.0L83.8,123.3L82.8,124.6L81.7,126.2L80.7,127.9L79.8,129.6L79.2,131.4" stroke="#f4f0a0" stroke-width="11.60"/>
<path d="M82.8,124.6L81.7,126.2L80.7,127.9L79.8,129.6L79.2,131.4L78.7,133.2L78.5,135.0" stroke="#706c48" stroke-width="14.40"/><path d="M84.9,122.0L83.8,123.3L82.8,124.6L81.7,126.2L80.7,127.9L79.8,129.6L79.2,131.4L78.7,133.2L78.5,135.0L78.5,136.9L78.8,138.7L79.3,140.5" stroke="#f4f0a0" stroke-width="12.00"/>
<path d="M238.7,127.5L240.0,126.7L241.3,125.9L242.6,125.1L243.9,124.4L245.2,123.6L246.5,122.9L247.9,122.2L249.2,121.4L250.5,120.7L251.9,119.9L253.4,119.1L254.8,118.3L256.2,117.6L257.7,116.8L259.1,116.0L260.6,115.3L262.0,114.6L263.5,113.9L264.9,113.2L266.4,112.5L267.9,111.8L269.3,111.2L270.8,110.5L272.3,109.9L273.8,109.3L275.2,108.7L276.7,108.1L278.1,107.5L279.6,106.9L281.1,106.4L282.6,105.9L284.1,105.4L285.6,105.0L287.0,104.6L288.5,104.2L290.0,103.8L291.4,103.5L292.9,103.1L294.4,102.9L295.9,102.6L297.6,102.3L299.3,102.1L300.9,101.9L302.6,101.8L304.3,101.6L306.0,101.6L307.7,101.6L309.4,101.7L311.1,101.7L312.8,101.9L314.5,102.1L316.2,102.3L317.9,102.7L319.5,103.2L321.0,103.8L322.5,104.4L324.0,105.1L325.4,105.9L326.8,106.8L328.1,107.8L329.4,108.8" stroke="#706c48" stroke-width="14.40"/><path d="M234.7,130.2L236.0,129.3L237.3,128.4L238.7,127.5L240.0,126.7L241.3,125.9L242.6,125.1L243.9,124.4L245.2,123.6L246.5,122.9L247.9,122.2L249.2,121.4L250.5,120.7L251.9,119.9L253.4,119.1L254.8,118.3L256.2,117.6L257.7,116.8L259.1,116.0L260.6,115.3L262.0,114.6L263.5,113.9L264.9,113.2L266.4,112.5L267.9,111.8L269.3,111.2L270.8,110.5L272.3,109.9L273.8,109.3L275.2,108.7L276.7,108.1L278.1,107.5L279.6,106.9L281.1,106.4L282.6,105.9L284.1,105.4L285.6,105.0L287.0,104.6L288.5,104.2L290.0,103.8L291.4,103.5L292.9,103.1L294.4,102.9L295.9,102.6L297.6,102.3L299.3,102.1L300.9,101.9L302.6,101.8L304.3,101.6L306.0,101.6L307.7,101.6L309.4,101.7L311.1,101.7L312.8,101.9L314.5,102.1L316.2,102.3L317.9,102.7L319.5,103.2L321.0,103.8L322.5,104.4L324.0,105.1L325.4,105.9L326.8,106.8L328.1,107.8L329.4,108.8L330.6,109.8L331.7,110.9L332.8,112.1" stroke="#f4f0a0" stroke-width="12.00"/>
<path d="M319.5,152.8L317.8,152.9L316.1,152.9L314.4,152.8L312.7,152.5L311.0,152.1L309.4,151.6L307.9,150.9L306.5,150.1L305.1,149.2L303.8,148.2L302.6,147.1L301.3,146.0L300.1,144.9L299.0,143.9L297.9,142.8L296.9,141.7L295.8,140.6L294.9,139.4L293.9,138.3L292.9,137.1L291.9,135.9L290.9,134.8L289.9,133.6L288.9,132.5L287.8,131.3L286.8,130.1L285.8,128.9L284.8,127.7L283.8,126.5L282.8,125.4L281.8,124.2L280.8,123.0" stroke="#706c48" stroke-width="14.40"/><path d="M324.1,151.8L322.6,152.3L321.0,152.6L319.5,152.8L317.8,152.9L316.1,152.9L314.4,152.8L312.7,152.5L311.0,152.1L309.4,151.6L307.9,150.9L306.5,150.1L305.1,149.2L303.8,148.2L302.6,147.1L301.3,146.0L300.1,144.9L299.0,143.9L297.9,142.8L296.9,141.7L295.8,140.6L294.9,139.4L293.9,138.3L292.9,137.1L291.9,135.9L290.9,134.8L289.9,133.6L288.9,132.5L287.8,131.3L286.8,130.1L285.8,128.9L284.8,127.7L283.8,126.5L282.8,125.4L281.8,124.2L280.8,123.0L279.8,121.8L278.8,120.6L277.7,119.5" stroke="#f4f0a0" stroke-width="12.00"/>
<path d="M248.7,143.1L250.4,143.2L252.1,143.2L253.7,143.2L255.2,143.1L256.7,142.9L258.3,142.7L259.8,142.4L261.4,142.1L262.9,141.8L264.4,141.4L266.0,141.1L267.5,140.7L269.0,140.4" stroke="#706c48" stroke-width="14.40"/><path d="M247.0,142.9L248.7,143.1L250.4,143.2L252.1,143.2L253.7,143.2L255.2,143.1L256.7,142.9L258.3,142.7L259.8,142.4L261.4,142.1L262.9,141.8L264.4,141.4L266.0,141.1L267.5,140.7L269.0,140.4L270.5,140.1L272.0,139.7L273.5,139.3" stroke="#f4f0a0" stroke-width="12.00"/>
<path d="M322.8,126.3L324.3,125.8L325.8,125.3L327.4,124.9L328.9,124.4L330.4,123.9L332.0,123.5L333.5,123.0L335.0,122.6L336.6,122.2L338.1,121.8L339.7,121.5L341.2,121.2L342.7,120.9L344.3,120.7L345.8,120.4L347.3,120.2L348.9,120.0L350.4,119.8L351.9,119.6L353.5,119.4L355.0,119.2L356.6,119.0L358.1,118.8L359.7,118.5L361.2,118.3L362.8,118.1L364.4,117.9L365.9,117.7L367.5,117.5L369.0,117.3L370.6,117.1L372.2,116.9L373.7,116.7L375.3,116.6L376.9,116.4L378.4,116.3L380.0,116.2L381.5,116.1L383.1,116.0L384.6,116.0L386.2,116.0L387.7,115.9L389.3,115.9L390.8,116.0L392.4,116.0L393.9,116.0L395.5,116.0L397.0,116.1L398.6,116.1L400.1,116.2L401.7,116.2L403.2,116.2L404.8,116.3L406.3,116.3L407.9,116.4L409.4,116.4L411.0,116.4" stroke="#706c48" stroke-width="14.40"/><path d="M318.3,127.8L319.8,127.3L321.3,126.8L322.8,126.3L324.3,125.8L325.8,125.3L327.4,124.9L328.9,124.4L330.4,123.9L332.0,123.5L333.5,123.0L335.0,122.6L336.6,122.2L338.1,121.8L339.7,121.5L341.2,121.2L342.7,120.9L344.3,120.7L345.8,120.4L347.3,120.2L348.9,120.0L350.4,119.8L351.9,119.6L353.5,119.4L355.0,119.2L356.6,119.0L358.1,118.8L359.7,118.5L361.2,118.3L362.8,118.1L364.4,117.9L365.9,117.7L367.5,117.5L369.0,117.3L370.6,117.1L372.2,116.9L373.7,116.7L375.3,116.6L376.9,116.4L378.4,116.3L380.0,116.2L381.5,116.1L383.1,116.0L384.6,116.0L386.2,116.0L387.7,115.9L389.3,115.9L390.8,116.0L392.4,116.0L393.9,116.0L395.5,116.0L397.0,116.1L398.6,116.1L400.1,116.2L401.7,116.2L403.2,116.2L404.8,116.3L406.3,116.3L407.9,116.4L409.4,116.4L411.0,116.4" stroke="#f4f0a0" stroke-width="12.00"/>
<path d="M610.5,84.3L611.8,85.2L613.1,86.2L614.4,87.2L615.6,88.1L616.9,89.1L618.1,90.1L619.4,91.0L620.6,92.0L621.8,93.0L623.0,93.9L624.1,94.9L625.7,96.2L627.2,97.5L628.7,98.8L629.8,99.8L630.9,100.8L632.0,101.8L633.2,102.8" stroke="#706c48" stroke-width="12.00"/><path d="M610.5,84.3L611.8,85.2L613.1,86.2L614.4,87.2L615.6,88.1L616.9,89.1L618.1,90.1L619.4,91.0L620.6,92.0L621.8,93.0L623.0,93.9L624.1,94.9L625.7,96.2L627.2,97.5L628.7,98.8L629.8,99.8L630.9,100.8L632.0,101.8L633.2,102.8L634.3,103.8L635.5,104.8L636.6,105.9" stroke="#f4f0a0" stroke-width="9.60"/>
<path d="M724.2,111.6L723.0,110.6L721.9,109.6L720.6,108.7L719.4,107.9L718.1,107.1L716.8,106.3L715.4,105.7L714.0,105.0L712.7,104.4L711.2,103.9L709.5,103.4L707.7,102.9L706.0,102.5L704.2,102.2L702.4,101.9L700.7,101.7L698.9,101.6L697.2,101.5L695.4,101.5L693.7,101.5L691.9,101.6L690.2,101.7L688.5,101.9L686.8,102.2L685.1,102.5L683.5,102.8L681.8,103.2L680.2,103.5L678.6,104.0L677.0,104.4L675.4,104.9L673.8,105.5L672.3,106.0L670.7,106.6L669.3,107.2L667.9,107.9L666.6,108.5L665.2,109.1L663.4,109.8L661.7,110.4L659.9,111.1L658.0,111.7L656.2,112.2L654.3,112.8L652.8,113.2L651.3,113.6L649.9,114.1L648.4,114.5L646.9,115.1L645.4,115.7" stroke="#706c48" stroke-width="12.00"/><path d="M727.4,114.8L726.4,113.7L725.3,112.6L724.2,111.6L723.0,110.6L721.9,109.6L720.6,108.7L719.4,107.9L718.1,107.1L716.8,106.3L715.4,105.7L714.0,105.0L712.7,104.4L711.2,103.9L709.5,103.4L707.7,102.9L706.0,102.5L704.2,102.2L702.4,101.9L700.7,101.7L698.9,101.6L697.2,101.5L695.4,101.5L693.7,101.5L691.9,101.6L690.2,101.7L688.5,101.9L686.8,102.2L685.1,102.5L683.5,102.8L681.8,103.2L680.2,103.5L678.6,104.0L677.0,104.4L675.4,104.9L673.8,105.5L672.3,106.0L670.7,106.6L669.3,107.2L667.9,107.9L666.6,108.5L665.2,109.1L663.4,109.8L661.7,110.4L659.9,111.1L658.0,111.7L656.2,112.2L654.3,112.8L652.8,113.2L651.3,113.6L649.9,114.1L648.4,114.5L646.9,115.1L645.4,115.7L643.8,116.3L642.3,116.9" stroke="#f4f0a0" stroke-width="9.60"/>
<path d="M648.4,114.5L646.9,115.1L645.4,115.7L643.8,116.3L642.3,116.9L640.8,117.5L639.3,118.1L637.7,118.6" stroke="#706c48" stroke-width="12.40"/><path d="M651.3,113.6L649.9,114.1L648.4,114.5L646.9,115.1L645.4,115.7L643.8,116.3L642.3,116.9L640.8,117.5L639.3,118.1L637.7,118.6L636.1,119.0L634.6,119.4L633.0,119.7" stroke="#f4f0a0" stroke-width="10.00"/>
<path d="M651.6,125.1L653.0,124.6L654.5,124.2L655.9,123.8L657.4,123.3L658.9,122.9L660.4,122.5L661.9,122.0L663.4,121.5L664.9,121.0L666.4,120.4L668.0,119.8L669.5,119.2L671.3,118.4L673.1,117.6L674.9,116.8L676.6,116.2L678.3,115.5L680.0,115.0L681.9,114.5L683.8,114.0L685.7,113.6L687.6,113.2L689.4,112.9L691.3,112.7L693.2,112.5L695.0,112.5L696.8,112.5L698.7,112.6L700.6,112.8L702.4,113.0L704.2,113.3L705.9,113.8L707.6,114.3L709.3,114.9L710.9,115.7L712.5,116.6L714.0,117.5L715.5,118.6L716.8,119.7" stroke="#706c48" stroke-width="12.00"/><path d="M647.3,126.6L648.7,126.1L650.2,125.6L651.6,125.1L653.0,124.6L654.5,124.2L655.9,123.8L657.4,123.3L658.9,122.9L660.4,122.5L661.9,122.0L663.4,121.5L664.9,121.0L666.4,120.4L668.0,119.8L669.5,119.2L671.3,118.4L673.1,117.6L674.9,116.8L676.6,116.2L678.3,115.5L680.0,115.0L681.9,114.5L683.8,114.0L685.7,113.6L687.6,113.2L689.4,112.9L691.3,112.7L693.2,112.5L695.0,112.5L696.8,112.5L698.7,112.6L700.6,112.8L702.4,113.0L704.2,113.3L705.9,113.8L707.6,114.3L709.3,114.9L710.9,115.7L712.5,116.6L714.0,117.5L715.5,118.6L716.8,119.7L718.1,120.9L719.3,122.3L720.4,123.6" stroke="#f4f0a0" stroke-width="9.60"/>
<path d="M707.3,135.2L708.8,134.9L710.3,134.6" stroke="#706c48" stroke-width="12.80"/><path d="M702.7,136.2L704.3,135.8L705.8,135.5L707.3,135.2L708.8,134.9L710.3,134.6L711.7,134.2L713.2,133.9" stroke="#f4f0a0" stroke-width="10.40"/>
<path d="M707.3,135.2L708.8,134.9L710.3,134.6L711.7,134.2L713.2,133.9L714.7,133.5L716.2,133.2L717.7,132.9L719.1,132.5L720.6,132.2L722.1,131.8L723.6,131.5L725.0,131.2L726.5,130.8L728.0,130.5L729.6,130.2" stroke="#706c48" stroke-width="13.20"/><path d="M704.3,135.8L705.8,135.5L707.3,135.2L708.8,134.9L710.3,134.6L711.7,134.2L713.2,133.9L714.7,133.5L716.2,133.2L717.7,132.9L719.1,132.5L720.6,132.2L722.1,131.8L723.6,131.5L725.0,131.2L726.5,130.8L728.0,130.5L729.6,130.2L731.1,129.8L732.7,129.5" stroke="#f4f0a0" stroke-width="10.80"/>
<path d="M726.5,130.8L728.0,130.5L729.6,130.2L731.1,129.8L732.7,129.5L734.3,129.1L735.8,128.8L737.4,128.4L739.0,128.1L740.5,127.7L742.1,127.4L743.7,127.1L745.3,126.8L746.8,126.5L748.4,126.2L750.0,126.0L751.5,125.8L753.0,125.6" stroke="#706c48" stroke-width="13.60"/><path d="M723.6,131.5L725.0,131.2L726.5,130.8L728.0,130.5L729.6,130.2L731.1,129.8L732.7,129.5L734.3,129.1L735.8,128.8L737.4,128.4L739.0,128.1L740.5,127.7L742.1,127.4L743.7,127.1L745.3,126.8L746.8,126.5L748.4,126.2L750.0,126.0L751.5,125.8L753.0,125.6L754.6,125.4L756.1,125.3" stroke="#f4f0a0" stroke-width="11.20"/>
<path d="M750.0,126.0L751.5,125.8L753.0,125.6L754.6,125.4L756.1,125.3L757.6,125.1L759.2,125.0L760.7,124.9L762.2,124.7L763.7,124.6L765.3,124.4L766.8,124.3" stroke="#706c48" stroke-width="14.00"/><path d="M746.8,126.5L748.4,126.2L750.0,126.0L751.5,125.8L753.0,125.6L754.6,125.4L756.1,125.3L757.6,125.1L759.2,125.0L760.7,124.9L762.2,124.7L763.7,124.6L765.3,124.4L766.8,124.3" stroke="#f4f0a0" stroke-width="11.60"/>
<path d="M625.0,396.2L626.3,395.5L627.8,395.2L629.4,394.9L630.9,394.6L632.4,394.2L633.9,393.9L635.5,393.5L637.0,393.1L638.5,392.6L640.0,392.2L641.5,391.8L643.0,391.4L644.6,390.9L646.1,390.4L647.7,390.0L649.2,389.5L650.7,389.0L652.3,388.5L653.8,388.0L655.3,387.5L656.8,387.0L658.3,386.6L659.8,386.1L661.3,385.6L662.8,385.1L664.3,384.7L665.8,384.2L667.3,383.8L668.7,383.3L670.2,382.9L671.7,382.4L673.1,382.0L674.7,381.5L676.3,381.1L677.8,380.6L679.4,380.2L680.9,379.8L682.4,379.4L684.0,379.0L685.5,378.7L687.0,378.4L688.5,378.1L690.0,377.9L691.5,377.7" stroke="#706c48" stroke-width="12.80"/><path d="M622.0,400.8L623.0,399.3L623.8,397.6L625.0,396.2L626.3,395.5L627.8,395.2L629.4,394.9L630.9,394.6L632.4,394.2L633.9,393.9L635.5,393.5L637.0,393.1L638.5,392.6L640.0,392.2L641.5,391.8L643.0,391.4L644.6,390.9L646.1,390.4L647.7,390.0L649.2,389.5L650.7,389.0L652.3,388.5L653.8,388.0L655.3,387.5L656.8,387.0L658.3,386.6L659.8,386.1L661.3,385.6L662.8,385.1L664.3,384.7L665.8,384.2L667.3,383.8L668.7,383.3L670.2,382.9L671.7,382.4L673.1,382.0L674.7,381.5L676.3,381.1L677.8,380.6L679.4,380.2L680.9,379.8L682.4,379.4L684.0,379.0L685.5,378.7L687.0,378.4L688.5,378.1L690.0,377.9L691.5,377.7L693.4,377.5L695.3,377.3L697.1,377.3" stroke="#f4f0a0" stroke-width="10.40"/>
<path d="M622.0,385.0L623.5,384.7L625.0,384.3L626.5,383.8L628.0,383.4L629.5,383.0L631.0,382.6L632.5,382.2L633.9,381.9L635.4,381.5L636.9,381.1L638.3,380.6L639.8,380.2L641.3,379.8L642.8,379.3L644.2,378.9L645.7,378.4L647.2,377.9L648.7,377.5L650.2,377.0L651.7,376.5L653.3,376.0L654.8,375.5L656.3,375.0L657.8,374.5L659.3,374.1L660.8,373.6L662.3,373.1L663.8,372.7L665.4,372.2L666.9,371.8L668.4,371.3L669.9,370.9L671.5,370.4L673.1,369.9L674.7,369.5L676.3,369.0L678.0,368.6L679.7,368.1L681.5,367.7L683.2,367.3L684.9,367.0L686.6,366.7L688.3,366.4L690.0,366.2" stroke="#706c48" stroke-width="12.80"/><path d="M617.0,385.6L618.7,385.5L620.4,385.3L622.0,385.0L623.5,384.7L625.0,384.3L626.5,383.8L628.0,383.4L629.5,383.0L631.0,382.6L632.5,382.2L633.9,381.9L635.4,381.5L636.9,381.1L638.3,380.6L639.8,380.2L641.3,379.8L642.8,379.3L644.2,378.9L645.7,378.4L647.2,377.9L648.7,377.5L650.2,377.0L651.7,376.5L653.3,376.0L654.8,375.5L656.3,375.0L657.8,374.5L659.3,374.1L660.8,373.6L662.3,373.1L663.8,372.7L665.4,372.2L666.9,371.8L668.4,371.3L669.9,370.9L671.5,370.4L673.1,369.9L674.7,369.5L676.3,369.0L678.0,368.6L679.7,368.1L681.5,367.7L683.2,367.3L684.9,367.0L686.6,366.7L688.3,366.4L690.0,366.2L691.8,366.0L693.7,365.8L695.5,365.7" stroke="#f4f0a0" stroke-width="10.40"/>
<path d="M216.2,396.2L217.5,395.5L219.0,395.2L220.6,394.9L222.1,394.6L223.6,394.2L225.1,393.9L226.7,393.5L228.2,393.1L229.7,392.6L231.2,392.2L232.7,391.8L234.2,391.4L235.8,390.9L237.3,390.4L238.9,390.0L240.4,389.5L241.9,389.0L243.5,388.5L245.0,388.0L246.5,387.5L248.0,387.0L249.5,386.6L251.0,386.1L252.5,385.6L254.0,385.1L255.5,384.7L257.0,384.2L258.5,383.8L259.9,383.3L261.4,382.9L262.9,382.4L264.3,382.0L265.9,381.5L267.5,381.1L269.0,380.6L270.6,380.2L272.1,379.8L273.6,379.4L275.2,379.0L276.7,378.7L278.2,378.4L279.7,378.1L281.2,377.9L282.7,377.7" stroke="#706c48" stroke-width="12.80"/><path d="M213.2,400.8L214.2,399.3L215.0,397.6L216.2,396.2L217.5,395.5L219.0,395.2L220.6,394.9L222.1,394.6L223.6,394.2L225.1,393.9L226.7,393.5L228.2,393.1L229.7,392.6L231.2,392.2L232.7,391.8L234.2,391.4L235.8,390.9L237.3,390.4L238.9,390.0L240.4,389.5L241.9,389.0L243.5,388.5L245.0,388.0L246.5,387.5L248.0,387.0L249.5,386.6L251.0,386.1L252.5,385.6L254.0,385.1L255.5,384.7L257.0,384.2L258.5,383.8L259.9,383.3L261.4,382.9L262.9,382.4L264.3,382.0L265.9,381.5L267.5,381.1L269.0,380.6L270.6,380.2L272.1,379.8L273.6,379.4L275.2,379.0L276.7,378.7L278.2,378.4L279.7,378.1L281.2,377.9L282.7,377.7L284.6,377.5L286.5,377.3L288.3,377.3" stroke="#f4f0a0" stroke-width="10.40"/>
<path d="M213.2,385.0L214.7,384.7L216.2,384.3L217.7,383.8L219.2,383.4L220.7,383.0L222.2,382.6L223.7,382.2L225.1,381.9L226.6,381.5L228.1,381.1L229.5,380.6L231.0,380.2L232.5,379.8L234.0,379.3L235.4,378.9L236.9,378.4L238.4,377.9L239.9,377.5L241.4,377.0L242.9,376.5L244.5,376.0L246.0,375.5L247.5,375.0L249.0,374.5L250.5,374.1L252.0,373.6L253.5,373.1L255.0,372.7L256.6,372.2L258.1,371.8L259.6,371.3L261.1,370.9L262.7,370.4L264.3,369.9L265.9,369.5L267.5,369.0L269.2,368.6L270.9,368.1L272.7,367.7L274.4,367.3L276.1,367.0L277.8,366.7L279.5,366.4L281.2,366.2" stroke="#706c48" stroke-width="12.80"/><path d="M208.2,385.6L209.9,385.5L211.6,385.3L213.2,385.0L214.7,384.7L216.2,384.3L217.7,383.8L219.2,383.4L220.7,383.0L222.2,382.6L223.7,382.2L225.1,381.9L226.6,381.5L228.1,381.1L229.5,380.6L231.0,380.2L232.5,379.8L234.0,379.3L235.4,378.9L236.9,378.4L238.4,377.9L239.9,377.5L241.4,377.0L242.9,376.5L244.5,376.0L246.0,375.5L247.5,375.0L249.0,374.5L250.5,374.1L252.0,373.6L253.5,373.1L255.0,372.7L256.6,372.2L258.1,371.8L259.6,371.3L261.1,370.9L262.7,370.4L264.3,369.9L265.9,369.5L267.5,369.0L269.2,368.6L270.9,368.1L272.7,367.7L274.4,367.3L276.1,367.0L277.8,366.7L279.5,366.4L281.2,366.2L283.0,366.0L284.9,365.8L286.7,365.7" stroke="#f4f0a0" stroke-width="10.40"/>
<path d="M609.4,83.3 L612.5,85.8" stroke="#f4f0a0" stroke-width="9.30"/>
<path d="M168.6,71.8 Q167.6,77.5 169.4,84" stroke="#706c48" stroke-width="1"/>
<path d="M182.3,70.1 Q184.2,76 182.9,82" stroke="#706c48" stroke-width="1.2" stroke-linecap="round"/>
<polygon points="225.9,117.8 226.9,117.9 227.9,117.9 228.9,118.0 229.9,118.1 230.9,118.2 231.9,118.3 233.0,118.3 234.1,118.3 235.1,118.3 236.2,118.2 237.4,118.0 238.5,117.8 239.5,117.6 240.6,117.3 241.7,117.0 242.8,116.7 243.8,116.3 244.8,115.9 245.9,115.5 246.9,115.0 247.9,114.4 249.0,113.9 250.0,113.2 250.9,112.6 251.9,111.9 252.8,111.2 253.7,110.5 254.5,109.9 255.4,109.2 256.3,108.6 257.1,107.9 258.0,107.3 258.8,106.6 259.6,105.9 260.4,105.2 261.2,104.6 262.0,103.9 262.8,103.3 263.6,102.7 264.4,102.1 265.3,101.5 266.1,100.9 267.0,100.4 267.8,99.8 268.7,99.3 269.6,98.7 270.5,98.2 271.4,97.7 272.3,97.2 273.2,96.7 274.1,96.2 275.1,95.7 276.0,95.2 277.0,94.7 278.0,94.2 278.9,93.7 279.9,93.3 280.9,92.9 281.8,92.5 282.8,92.1 283.7,91.8 284.7,91.5 285.6,91.2 286.6,91.0 287.5,90.7 288.5,90.5 289.4,90.4 290.3,90.2 291.2,90.1 292.1,90.1 293.1,90.1 294.1,90.0 295.1,90.0 294.9,85.0 293.9,85.1 292.9,85.1 291.9,85.2 290.8,85.2 289.7,85.4 288.6,85.6 287.5,85.8 286.4,86.0 285.3,86.3 284.3,86.6 283.2,87.0 282.2,87.3 281.2,87.7 280.1,88.1 279.0,88.5 277.9,89.0 276.9,89.5 275.9,90.0 274.9,90.6 273.9,91.1 272.9,91.6 271.9,92.2 271.0,92.7 270.0,93.2 269.1,93.8 268.2,94.3 267.3,94.9 266.3,95.5 265.4,96.1 264.5,96.7 263.6,97.3 262.7,97.9 261.9,98.6 261.0,99.2 260.1,99.9 259.3,100.6 258.5,101.3 257.7,102.0 256.9,102.6 256.1,103.3 255.3,104.0 254.5,104.6 253.7,105.2 252.9,105.9 252.0,106.6 251.1,107.3 250.3,108.0 249.4,108.6 248.6,109.3 247.7,109.9 246.9,110.4 246.0,110.9 245.1,111.4 244.2,111.8 243.3,112.2 242.4,112.6 241.5,113.0 240.5,113.3 239.6,113.6 238.6,113.8 237.7,114.1 236.7,114.3 235.8,114.4 234.9,114.5 234.0,114.6 233.0,114.6 232.1,114.6 231.1,114.5 230.2,114.4 229.2,114.4 228.1,114.3 227.1,114.2 226.1,114.2" fill="#1c1c1a"/><polygon points="311.9,86.0 289.2,78.6 295.0,87.5 291.9,99.3" fill="#1c1c1a"/>
<path d="M711.9,399.0L713.8,398.7L715.7,398.4L717.7,398.2L719.6,397.9L721.5,397.8L723.5,397.6L725.4,397.5L727.4,397.3L729.3,397.2L730.8,397.1L732.3,397.1L733.9,397.0L735.4,396.9L736.9,396.9L738.4,396.8L739.9,396.7L741.4,396.6L743.0,396.5L744.6,396.3L746.1,396.1L747.7,395.9L749.2,395.7L750.7,395.5L752.3,395.3L753.8,395.0L755.4,394.8L756.9,394.5L758.5,394.3L760.0,394.0L761.6,393.7L763.2,393.4L764.7,393.1L766.3,392.8L767.9,392.4L769.4,392.1" stroke="#706c48" stroke-width="12.80"/><path d="M707.1,399.7L708.7,399.4L710.3,399.2L711.9,399.0L713.8,398.7L715.7,398.4L717.7,398.2L719.6,397.9L721.5,397.8L723.5,397.6L725.4,397.5L727.4,397.3L729.3,397.2L730.8,397.1L732.3,397.1L733.9,397.0L735.4,396.9L736.9,396.9L738.4,396.8L739.9,396.7L741.4,396.6L743.0,396.5L744.6,396.3L746.1,396.1L747.7,395.9L749.2,395.7L750.7,395.5L752.3,395.3L753.8,395.0L755.4,394.8L756.9,394.5L758.5,394.3L760.0,394.0L761.6,393.7L763.2,393.4L764.7,393.1L766.3,392.8L767.9,392.4L769.4,392.1L771.0,391.8L772.6,391.4" stroke="#f4f0a0" stroke-width="10.40"/>
<path d="M766.3,392.8L767.9,392.4L769.4,392.1L771.0,391.8L772.6,391.4L774.1,391.1L775.7,390.7L777.3,390.4L778.8,390.1L780.4,389.9L782.0,389.6L783.5,389.4" stroke="#706c48" stroke-width="13.20"/><path d="M763.2,393.4L764.7,393.1L766.3,392.8L767.9,392.4L769.4,392.1L771.0,391.8L772.6,391.4L774.1,391.1L775.7,390.7L777.3,390.4L778.8,390.1L780.4,389.9L782.0,389.6L783.5,389.4L785.0,389.2L786.6,389.0" stroke="#f4f0a0" stroke-width="10.80"/>
<path d="M780.4,389.9L782.0,389.6L783.5,389.4L785.0,389.2L786.6,389.0L788.1,388.8L789.6,388.7L791.1,388.5L792.7,388.4L794.2,388.2L795.7,388.1L797.3,388.0L798.8,387.9" stroke="#706c48" stroke-width="13.60"/><path d="M777.3,390.4L778.8,390.1L780.4,389.9L782.0,389.6L783.5,389.4L785.0,389.2L786.6,389.0L788.1,388.8L789.6,388.7L791.1,388.5L792.7,388.4L794.2,388.2L795.7,388.1L797.3,388.0L798.8,387.9L800.3,387.8L801.9,387.6" stroke="#f4f0a0" stroke-width="11.20"/>
<path d="M795.7,388.1L797.3,388.0L798.8,387.9L800.3,387.8L801.9,387.6L803.4,387.5L804.9,387.4L806.4,387.3L808.0,387.1L809.5,387.0" stroke="#706c48" stroke-width="14.00"/><path d="M792.7,388.4L794.2,388.2L795.7,388.1L797.3,388.0L798.8,387.9L800.3,387.8L801.9,387.6L803.4,387.5L804.9,387.4L806.4,387.3L808.0,387.1L809.5,387.0" stroke="#f4f0a0" stroke-width="11.60"/>
<path d="M710.1,387.5L711.7,387.3L713.2,387.1L714.8,386.8L716.3,386.6L717.9,386.5L719.4,386.3L721.0,386.2L722.6,386.0L724.1,385.9L725.6,385.8L727.2,385.7L728.7,385.6L730.2,385.6L731.8,385.5L733.3,385.4L734.8,385.3L736.8,385.2L738.8,385.1L740.8,385.0L742.2,384.9L743.7,384.7L745.2,384.5L746.7,384.3L748.2,384.0L749.7,383.8L751.1,383.5L752.6,383.2L754.1,382.9L755.6,382.7L757.0,382.4L758.5,382.1L760.0,381.8L761.6,381.5L763.2,381.2L764.7,380.9L766.3,380.6L767.9,380.3L769.4,379.9L771.0,379.6L772.6,379.3L774.2,378.9L775.7,378.6L777.3,378.2L778.9,377.9L780.4,377.5L782.0,377.2L783.5,376.9L785.1,376.5L786.6,376.2L788.1,375.8L789.7,375.4L791.2,375.1L792.7,374.7L794.3,374.4L795.8,374.0L797.3,373.6L798.8,373.3L800.4,372.9L801.9,372.5L803.4,372.1L804.9,371.8L806.5,371.4L808.0,371.0L809.5,370.6L810.9,370.3L812.4,369.9L813.9,369.5L815.3,369.1L816.8,368.8L818.3,368.4L819.7,368.0L821.2,367.6L822.7,367.3" stroke="#706c48" stroke-width="12.80"/><path d="M705.5,388.2L707.0,388.0L708.6,387.7L710.1,387.5L711.7,387.3L713.2,387.1L714.8,386.8L716.3,386.6L717.9,386.5L719.4,386.3L721.0,386.2L722.6,386.0L724.1,385.9L725.6,385.8L727.2,385.7L728.7,385.6L730.2,385.6L731.8,385.5L733.3,385.4L734.8,385.3L736.8,385.2L738.8,385.1L740.8,385.0L742.2,384.9L743.7,384.7L745.2,384.5L746.7,384.3L748.2,384.0L749.7,383.8L751.1,383.5L752.6,383.2L754.1,382.9L755.6,382.7L757.0,382.4L758.5,382.1L760.0,381.8L761.6,381.5L763.2,381.2L764.7,380.9L766.3,380.6L767.9,380.3L769.4,379.9L771.0,379.6L772.6,379.3L774.2,378.9L775.7,378.6L777.3,378.2L778.9,377.9L780.4,377.5L782.0,377.2L783.5,376.9L785.1,376.5L786.6,376.2L788.1,375.8L789.7,375.4L791.2,375.1L792.7,374.7L794.3,374.4L795.8,374.0L797.3,373.6L798.8,373.3L800.4,372.9L801.9,372.5L803.4,372.1L804.9,371.8L806.5,371.4L808.0,371.0L809.5,370.6L810.9,370.3L812.4,369.9L813.9,369.5L815.3,369.1L816.8,368.8L818.3,368.4L819.7,368.0L821.2,367.6L822.7,367.3L824.1,366.9L825.6,366.5" stroke="#f4f0a0" stroke-width="10.40"/>
<path d="M819.7,368.0L821.2,367.6L822.7,367.3L824.1,366.9L825.6,366.5L827.0,366.1L828.5,365.7L830.0,365.4L831.4,365.0L832.9,364.6" stroke="#706c48" stroke-width="12.40"/><path d="M816.8,368.8L818.3,368.4L819.7,368.0L821.2,367.6L822.7,367.3L824.1,366.9L825.6,366.5L827.0,366.1L828.5,365.7L830.0,365.4L831.4,365.0L832.9,364.6" stroke="#f4f0a0" stroke-width="10.00"/>
<path d="M311.0,396.6L312.5,396.2L314.0,395.9" stroke="#706c48" stroke-width="12.80"/><path d="M306.3,397.9L307.9,397.4L309.4,397.0L311.0,396.6L312.5,396.2L314.0,395.9L315.5,395.6L317.0,395.2" stroke="#f4f0a0" stroke-width="10.40"/>
<path d="M311.0,396.6L312.5,396.2L314.0,395.9L315.5,395.6L317.0,395.2L318.5,394.9L320.0,394.6L321.5,394.3L323.0,394.0L324.5,393.7L326.0,393.4L327.5,393.1" stroke="#706c48" stroke-width="13.20"/><path d="M307.9,397.4L309.4,397.0L311.0,396.6L312.5,396.2L314.0,395.9L315.5,395.6L317.0,395.2L318.5,394.9L320.0,394.6L321.5,394.3L323.0,394.0L324.5,393.7L326.0,393.4L327.5,393.1L329.0,392.8L330.5,392.6" stroke="#f4f0a0" stroke-width="10.80"/>
<path d="M324.5,393.7L326.0,393.4L327.5,393.1L329.0,392.8L330.5,392.6L332.0,392.3L333.5,392.0L335.0,391.8L336.6,391.5L338.1,391.2L339.6,391.0L341.1,390.8L342.6,390.5L344.2,390.3" stroke="#706c48" stroke-width="13.60"/><path d="M321.5,394.3L323.0,394.0L324.5,393.7L326.0,393.4L327.5,393.1L329.0,392.8L330.5,392.6L332.0,392.3L333.5,392.0L335.0,391.8L336.6,391.5L338.1,391.2L339.6,391.0L341.1,390.8L342.6,390.5L344.2,390.3L345.7,390.1L347.2,389.8" stroke="#f4f0a0" stroke-width="11.20"/>
<path d="M341.1,390.8L342.6,390.5L344.2,390.3L345.7,390.1L347.2,389.8L348.7,389.6L350.3,389.4L351.8,389.2L353.3,389.0L354.8,388.8L356.3,388.6L357.9,388.4L359.4,388.3L360.9,388.1L362.4,387.9L363.9,387.8L365.4,387.6L367.0,387.5L368.5,387.3L370.0,387.2L371.6,387.1L373.1,386.9" stroke="#706c48" stroke-width="14.00"/><path d="M338.1,391.2L339.6,391.0L341.1,390.8L342.6,390.5L344.2,390.3L345.7,390.1L347.2,389.8L348.7,389.6L350.3,389.4L351.8,389.2L353.3,389.0L354.8,388.8L356.3,388.6L357.9,388.4L359.4,388.3L360.9,388.1L362.4,387.9L363.9,387.8L365.4,387.6L367.0,387.5L368.5,387.3L370.0,387.2L371.6,387.1L373.1,386.9L374.7,386.8L376.3,386.7" stroke="#f4f0a0" stroke-width="11.60"/>
<path d="M370.0,387.2L371.6,387.1L373.1,386.9L374.7,386.8L376.3,386.7L377.9,386.6L379.4,386.5L381.0,386.5L382.6,386.4L384.2,386.3L385.7,386.2L387.3,386.1L388.9,386.0" stroke="#706c48" stroke-width="14.40"/><path d="M367.0,387.5L368.5,387.3L370.0,387.2L371.6,387.1L373.1,386.9L374.7,386.8L376.3,386.7L377.9,386.6L379.4,386.5L381.0,386.5L382.6,386.4L384.2,386.3L385.7,386.2L387.3,386.1L388.9,386.0" stroke="#f4f0a0" stroke-width="12.00"/>
<path d="M285.8,388.2L287.0,387.4L288.3,386.5L289.5,385.6L290.8,384.8L292.0,383.9L293.4,382.9L294.8,381.9L296.2,381.0L297.6,380.0L299.0,379.0L300.3,378.1" stroke="#706c48" stroke-width="12.40"/><path d="M282.1,390.8L283.3,389.9L284.6,389.1L285.8,388.2L287.0,387.4L288.3,386.5L289.5,385.6L290.8,384.8L292.0,383.9L293.4,382.9L294.8,381.9L296.2,381.0L297.6,380.0L299.0,379.0L300.3,378.1L301.5,377.2L302.8,376.3" stroke="#f4f0a0" stroke-width="10.00"/>
<path d="M297.6,380.0L299.0,379.0L300.3,378.1L301.5,377.2L302.8,376.3L304.1,375.4L305.3,374.5L306.6,373.6" stroke="#706c48" stroke-width="12.00"/><path d="M294.8,381.9L296.2,381.0L297.6,380.0L299.0,379.0L300.3,378.1L301.5,377.2L302.8,376.3L304.1,375.4L305.3,374.5L306.6,373.6" stroke="#f4f0a0" stroke-width="9.60"/>
<ellipse cx="833.0" cy="364.6" rx="3.50" ry="5.90" transform="rotate(-14.5 833.0 364.6)" fill="#f6f3b8" stroke="#706c48" stroke-width="1.1"/><path d="M0,5.90 A2.80,5.90 0 0 1 0,-5.90" transform="translate(821.4 367.6) rotate(-14.5)" stroke="#706c48" stroke-width="1"/>
<ellipse cx="307.0" cy="373.3" rx="3.70" ry="6.10" transform="rotate(-36.0 307.0 373.3)" fill="#f6f3b8" stroke="#706c48" stroke-width="1.1"/><path d="M0,6.10 A2.96,6.10 0 0 1 0,-6.10" transform="translate(296.5 380.9) rotate(-36.0)" stroke="#706c48" stroke-width="1"/>
<path d="M245.4,100.7L243.8,100.9L242.2,101.3L240.7,101.7L239.2,102.2L237.7,102.8L236.3,103.6L235.0,104.5L233.8,105.6L232.6,106.7L231.5,107.9L230.6,109.2L229.7,110.6L228.9,111.9L228.3,113.3L227.7,114.7L227.2,116.2L226.9,117.7L226.6,119.2L226.5,121.0L226.5,122.8L226.7,124.6L227.0,126.4L227.4,128.1L227.9,129.6L228.5,131.1L229.2,132.6L230.0,134.0L230.9,135.3L231.9,136.5L233.1,137.6L234.4,138.6L235.8,139.5L237.3,140.2L238.9,140.9L240.4,141.5L242.0,142.0L243.6,142.4L245.3,142.7L247.0,142.9L248.7,143.1L250.4,143.2L252.1,143.2" stroke="#706c48" stroke-width="14.40"/><path d="M250.6,100.5L248.8,100.5L247.1,100.5L245.4,100.7L243.8,100.9L242.2,101.3L240.7,101.7L239.2,102.2L237.7,102.8L236.3,103.6L235.0,104.5L233.8,105.6L232.6,106.7L231.5,107.9L230.6,109.2L229.7,110.6L228.9,111.9L228.3,113.3L227.7,114.7L227.2,116.2L226.9,117.7L226.6,119.2L226.5,121.0L226.5,122.8L226.7,124.6L227.0,126.4L227.4,128.1L227.9,129.6L228.5,131.1L229.2,132.6L230.0,134.0L230.9,135.3L231.9,136.5L233.1,137.6L234.4,138.6L235.8,139.5L237.3,140.2L238.9,140.9L240.4,141.5L242.0,142.0L243.6,142.4L245.3,142.7L247.0,142.9L248.7,143.1L250.4,143.2L252.1,143.2L253.7,143.2L255.2,143.1L256.7,142.9" stroke="#f4f0a0" stroke-width="12.00"/>
<path d="M605.8,112.0L605.3,113.6L604.9,115.3L604.6,117.0L604.4,118.7L604.3,120.4L604.3,122.3L604.4,124.3L604.7,126.2L605.0,127.9L605.4,129.7L605.9,131.3L606.6,133.0L607.3,134.6L608.2,136.1L609.1,137.6L610.2,139.0L611.3,140.3L612.5,141.6L613.8,142.8L614.9,143.8L616.1,144.8L617.3,145.7L618.5,146.5L619.8,147.3L621.2,148.1L622.5,148.7L623.9,149.3L625.5,149.8L627.1,150.2L628.8,150.5L630.4,150.8L632.1,150.9L633.8,151.0L635.5,151.0" stroke="#706c48" stroke-width="12.40"/><path d="M607.7,107.5L607.0,109.0L606.4,110.5L605.8,112.0L605.3,113.6L604.9,115.3L604.6,117.0L604.4,118.7L604.3,120.4L604.3,122.3L604.4,124.3L604.7,126.2L605.0,127.9L605.4,129.7L605.9,131.3L606.6,133.0L607.3,134.6L608.2,136.1L609.1,137.6L610.2,139.0L611.3,140.3L612.5,141.6L613.8,142.8L614.9,143.8L616.1,144.8L617.3,145.7L618.5,146.5L619.8,147.3L621.2,148.1L622.5,148.7L623.9,149.3L625.5,149.8L627.1,150.2L628.8,150.5L630.4,150.8L632.1,150.9L633.8,151.0L635.5,151.0L637.1,150.9L638.6,150.8L640.1,150.5" stroke="#f4f0a0" stroke-width="10.00"/>
<path d="M613.2,363.3L611.9,364.3L610.8,365.4L609.6,366.6L608.6,367.9L607.7,369.3L606.8,370.8L606.0,372.3L605.3,373.9L604.8,375.6L604.3,377.2L604.0,378.9L603.8,380.6L603.8,382.4L603.8,384.1L603.8,385.8L604.0,387.7L604.2,389.5L604.5,391.3L604.9,393.1L605.3,394.9L605.8,396.7L606.4,398.4L607.1,400.1L607.9,401.6L608.7,403.0L609.7,404.4L610.7,405.7L611.8,406.9L613.0,408.0L614.3,409.0L615.6,410.0L617.0,410.8L618.5,411.6L619.9,412.3L621.4,413.0L623.0,413.5L624.6,414.0L626.1,414.4L627.7,414.6L629.2,414.8L630.8,414.9L632.3,414.9L633.9,414.9L635.6,414.9L637.4,414.9L639.1,414.8L640.8,414.7" stroke="#706c48" stroke-width="12.80"/><path d="M617.8,360.6L616.2,361.4L614.7,362.3L613.2,363.3L611.9,364.3L610.8,365.4L609.6,366.6L608.6,367.9L607.7,369.3L606.8,370.8L606.0,372.3L605.3,373.9L604.8,375.6L604.3,377.2L604.0,378.9L603.8,380.6L603.8,382.4L603.8,384.1L603.8,385.8L604.0,387.7L604.2,389.5L604.5,391.3L604.9,393.1L605.3,394.9L605.8,396.7L606.4,398.4L607.1,400.1L607.9,401.6L608.7,403.0L609.7,404.4L610.7,405.7L611.8,406.9L613.0,408.0L614.3,409.0L615.6,410.0L617.0,410.8L618.5,411.6L619.9,412.3L621.4,413.0L623.0,413.5L624.6,414.0L626.1,414.4L627.7,414.6L629.2,414.8L630.8,414.9L632.3,414.9L633.9,414.9L635.6,414.9L637.4,414.9L639.1,414.8L640.8,414.7L642.6,414.6L644.4,414.5L646.2,414.3" stroke="#f4f0a0" stroke-width="10.40"/>
<path d="M620.2,372.5L618.7,374.0L617.4,375.6L616.4,377.5L615.7,379.6L615.4,381.5L615.3,383.4L615.4,385.3L615.6,387.1L615.8,388.8L616.1,390.5L616.5,392.1L617.0,393.7L617.7,395.3L618.7,397.1L620.0,398.7L621.1,399.7L622.5,400.6L623.8,401.3L625.3,402.0L626.8,402.6L628.4,403.0L630.2,403.2L632.0,403.3L633.9,403.3L635.5,403.3L637.1,403.3L638.7,403.2L640.3,403.2" stroke="#706c48" stroke-width="12.80"/><path d="M624.4,370.5L622.9,371.0L621.5,371.7L620.2,372.5L618.7,374.0L617.4,375.6L616.4,377.5L615.7,379.6L615.4,381.5L615.3,383.4L615.4,385.3L615.6,387.1L615.8,388.8L616.1,390.5L616.5,392.1L617.0,393.7L617.7,395.3L618.7,397.1L620.0,398.7L621.1,399.7L622.5,400.6L623.8,401.3L625.3,402.0L626.8,402.6L628.4,403.0L630.2,403.2L632.0,403.3L633.9,403.3L635.5,403.3L637.1,403.3L638.7,403.2L640.3,403.2L641.8,403.1L643.4,403.0L644.9,402.8" stroke="#f4f0a0" stroke-width="10.40"/>
<path d="M204.4,363.3L203.1,364.3L202.0,365.4L200.8,366.6L199.8,367.9L198.9,369.3L198.0,370.8L197.2,372.3L196.5,373.9L196.0,375.6L195.5,377.2L195.2,378.9L195.0,380.6L195.0,382.4L195.0,384.1L195.0,385.8L195.2,387.7L195.4,389.5L195.7,391.3L196.1,393.1L196.5,394.9L197.0,396.7L197.6,398.4L198.3,400.1L199.1,401.6L199.9,403.0L200.9,404.4L201.9,405.7L203.0,406.9L204.2,408.0L205.5,409.0L206.8,410.0L208.2,410.8L209.7,411.6L211.1,412.3L212.6,413.0L214.2,413.5L215.8,414.0L217.3,414.4L218.9,414.6L220.4,414.8L222.0,414.9L223.5,414.9L225.1,414.9L226.8,414.9L228.6,414.9L230.3,414.8L232.0,414.7" stroke="#706c48" stroke-width="12.80"/><path d="M209.0,360.6L207.4,361.4L205.9,362.3L204.4,363.3L203.1,364.3L202.0,365.4L200.8,366.6L199.8,367.9L198.9,369.3L198.0,370.8L197.2,372.3L196.5,373.9L196.0,375.6L195.5,377.2L195.2,378.9L195.0,380.6L195.0,382.4L195.0,384.1L195.0,385.8L195.2,387.7L195.4,389.5L195.7,391.3L196.1,393.1L196.5,394.9L197.0,396.7L197.6,398.4L198.3,400.1L199.1,401.6L199.9,403.0L200.9,404.4L201.9,405.7L203.0,406.9L204.2,408.0L205.5,409.0L206.8,410.0L208.2,410.8L209.7,411.6L211.1,412.3L212.6,413.0L214.2,413.5L215.8,414.0L217.3,414.4L218.9,414.6L220.4,414.8L222.0,414.9L223.5,414.9L225.1,414.9L226.8,414.9L228.6,414.9L230.3,414.8L232.0,414.7L233.8,414.6L235.6,414.5L237.4,414.3" stroke="#f4f0a0" stroke-width="10.40"/>
<path d="M211.4,372.5L209.9,374.0L208.6,375.6L207.6,377.5L206.9,379.6L206.6,381.5L206.5,383.4L206.6,385.3L206.8,387.1L207.0,388.8L207.3,390.5L207.7,392.1L208.2,393.7L208.9,395.3L209.9,397.1L211.2,398.7L212.3,399.7L213.7,400.6L215.0,401.3L216.5,402.0L218.0,402.6L219.6,403.0L221.4,403.2L223.2,403.3L225.1,403.3L226.7,403.3L228.3,403.3L229.9,403.2L231.5,403.2" stroke="#706c48" stroke-width="12.80"/><path d="M215.6,370.5L214.1,371.0L212.7,371.7L211.4,372.5L209.9,374.0L208.6,375.6L207.6,377.5L206.9,379.6L206.6,381.5L206.5,383.4L206.6,385.3L206.8,387.1L207.0,388.8L207.3,390.5L207.7,392.1L208.2,393.7L208.9,395.3L209.9,397.1L211.2,398.7L212.3,399.7L213.7,400.6L215.0,401.3L216.5,402.0L218.0,402.6L219.6,403.0L221.4,403.2L223.2,403.3L225.1,403.3L226.7,403.3L228.3,403.3L229.9,403.2L231.5,403.2L233.0,403.1L234.6,403.0L236.1,402.8" stroke="#f4f0a0" stroke-width="10.40"/>
<polygon points="603.4,75.5 602.4,75.4 601.4,75.2 600.4,75.1 599.3,74.9 598.1,74.8 596.8,74.8 595.5,75.0 594.1,75.2 592.7,75.6 591.4,76.0 590.1,76.6 589.0,77.2 588.0,77.9 587.1,78.7 586.3,79.5 585.5,80.3 584.7,81.2 584.0,82.1 583.4,83.2 582.8,84.3 582.2,85.4 581.8,86.5 581.4,87.6 581.1,88.6 580.7,89.7 580.4,90.7 580.1,91.8 579.9,92.9 579.6,93.9 579.4,95.0 579.2,96.1 579.1,97.2 579.0,98.3 578.9,99.3 578.8,100.4 578.8,101.5 578.8,102.5 578.8,103.6 578.9,104.7 579.0,105.8 579.1,106.9 579.3,108.1 579.5,109.2 579.7,110.3 580.0,111.5 580.3,112.6 580.7,113.7 581.0,114.8 581.5,115.9 581.9,117.0 582.4,118.0 582.9,119.1 583.4,120.1 584.0,121.2 584.6,122.1 585.2,123.1 585.8,124.0 586.4,124.8 587.1,125.7 587.8,126.6 588.5,127.4 589.2,128.2 590.0,129.0 590.8,129.8 591.6,130.6 592.5,131.3 593.4,132.1 594.3,132.7 595.3,133.4 596.2,134.0 597.2,134.6 598.2,135.2 599.2,135.7 600.2,136.2 601.2,136.6 602.3,137.0 603.3,137.4 604.3,137.8 605.3,138.1 606.4,138.5 607.4,138.8 608.4,139.1 609.5,139.3 610.5,139.6 611.6,139.8 612.6,140.0 613.7,140.2 614.7,140.4 615.8,140.5 616.8,140.7 617.9,140.9 619.0,141.0 620.1,141.1 621.2,141.2 622.3,141.3 623.4,141.4 624.6,141.4 625.7,141.5 626.8,141.5 627.8,141.5 628.9,141.6 630.0,141.6 631.1,141.6 632.2,141.6 633.3,141.6 634.3,141.6 635.4,141.6 636.5,141.5 637.6,141.5 638.7,141.4 639.8,141.4 640.8,141.3 641.9,141.2 643.0,141.1 644.0,141.0 645.1,140.9 646.1,140.8 647.2,140.6 648.2,140.5 649.2,140.3 650.3,140.1 651.3,140.0 652.4,139.8 653.4,139.6 654.4,139.3 655.4,139.1 656.4,138.9 657.4,138.7 658.4,138.4 659.4,138.2 660.4,138.0 661.4,137.8 660.6,134.2 659.6,134.4 658.6,134.7 657.6,134.9 656.6,135.1 655.6,135.3 654.6,135.5 653.6,135.7 652.6,135.9 651.7,136.1 650.7,136.3 649.7,136.5 648.7,136.6 647.7,136.8 646.7,136.9 645.6,137.0 644.6,137.1 643.6,137.2 642.6,137.3 641.6,137.4 640.6,137.5 639.5,137.6 638.5,137.6 637.4,137.7 636.4,137.7 635.3,137.7 634.3,137.7 633.3,137.7 632.2,137.7 631.2,137.7 630.1,137.7 629.1,137.6 628.0,137.6 626.9,137.6 625.8,137.5 624.8,137.4 623.7,137.4 622.6,137.3 621.6,137.2 620.5,137.1 619.5,137.0 618.4,136.9 617.4,136.7 616.4,136.5 615.4,136.4 614.4,136.2 613.4,136.0 612.4,135.8 611.4,135.6 610.5,135.3 609.5,135.1 608.6,134.8 607.6,134.5 606.7,134.2 605.7,133.9 604.7,133.5 603.8,133.1 602.9,132.8 602.0,132.3 601.1,131.9 600.2,131.5 599.4,131.0 598.5,130.4 597.7,129.9 596.9,129.3 596.0,128.7 595.3,128.0 594.5,127.4 593.8,126.7 593.0,126.0 592.4,125.3 591.8,124.6 591.1,123.8 590.6,123.1 590.0,122.3 589.4,121.5 588.9,120.7 588.4,119.9 587.9,118.9 587.4,118.0 586.9,117.1 586.4,116.2 586.0,115.2 585.6,114.3 585.3,113.3 584.9,112.3 584.7,111.3 584.4,110.4 584.2,109.4 584.0,108.4 583.8,107.4 583.7,106.4 583.6,105.4 583.5,104.3 583.4,103.4 583.4,102.5 583.4,101.5 583.5,100.6 583.5,99.7 583.6,98.7 583.7,97.8 583.9,96.8 584.0,95.9 584.2,94.9 584.4,94.0 584.7,93.0 585.0,92.1 585.3,91.1 585.6,90.1 585.9,89.1 586.3,88.2 586.6,87.3 587.0,86.4 587.5,85.6 588.0,84.9 588.5,84.2 589.1,83.5 589.7,82.9 590.3,82.3 591.0,81.8 591.6,81.4 592.3,81.0 593.2,80.6 594.1,80.3 595.1,80.0 596.1,79.9 597.2,79.8 597.9,79.8 598.7,79.8 599.6,80.0 600.6,80.1 601.6,80.3 602.6,80.5" fill="#1c1c1a"/>
<polygon points="685.8,130.0 686.8,129.5 687.9,129.0 688.9,128.6 689.9,128.1 690.9,127.6 691.9,127.1 693.0,126.6 694.0,126.1 695.0,125.5 696.0,125.0 697.0,124.4 698.0,123.9 699.0,123.3 699.9,122.8 700.8,122.3 701.7,121.8 702.6,121.3 703.5,120.8 704.4,120.3 705.3,119.8 706.2,119.3 707.1,118.8 708.0,118.2 708.8,117.7 709.7,117.2 710.6,116.7 711.5,116.1 712.4,115.6 713.3,115.1 714.2,114.5 715.1,114.0 716.0,113.4 716.9,112.9 717.8,112.3 718.7,111.8 719.6,111.2 720.5,110.7 721.4,110.1 722.3,109.5 723.2,109.0 724.1,108.4 725.0,107.9 725.9,107.3 726.8,106.8 727.7,106.2 728.6,105.6 729.5,105.1 730.3,104.5 731.2,103.9 732.1,103.3 733.0,102.8 733.8,102.2 734.7,101.6 735.5,101.1 736.4,100.5 737.2,100.0 738.0,99.4 738.8,98.8 739.7,98.3 740.5,97.7 741.3,97.2 742.2,96.6 743.0,96.1 743.8,95.6 744.7,95.0 745.5,94.5 746.4,93.9 747.2,93.4 748.1,92.8 744.9,88.2 744.1,88.7 743.3,89.3 742.5,89.9 741.6,90.4 740.8,91.0 740.0,91.6 739.2,92.1 738.3,92.7 737.5,93.3 736.7,93.9 735.8,94.4 735.0,95.0 734.2,95.6 733.4,96.2 732.5,96.8 731.7,97.4 730.9,97.9 730.1,98.5 729.3,99.1 728.4,99.7 727.5,100.2 726.7,100.8 725.8,101.4 724.9,102.0 724.1,102.6 723.2,103.1 722.3,103.7 721.4,104.3 720.6,104.9 719.7,105.5 718.8,106.0 717.9,106.6 717.1,107.2 716.2,107.7 715.3,108.3 714.4,108.9 713.5,109.4 712.7,110.0 711.8,110.6 710.9,111.1 710.0,111.7 709.1,112.3 708.2,112.8 707.4,113.3 706.5,113.9 705.7,114.4 704.8,115.0 703.9,115.5 703.1,116.0 702.2,116.6 701.3,117.1 700.5,117.6 699.6,118.1 698.7,118.6 697.8,119.2 697.0,119.7 696.0,120.2 695.0,120.8 694.0,121.3 693.0,121.9 692.1,122.4 691.1,123.0 690.1,123.5 689.1,124.0 688.1,124.5 687.2,125.0 686.2,125.5 685.2,125.9 684.2,126.4" fill="#1c1c1a"/><polygon points="758.1,77.3 736.2,86.4 746.5,90.5 751.5,101.7" fill="#1c1c1a"/>
<polygon points="317.7,365.0 318.4,364.2 319.1,363.3 319.8,362.5 320.4,361.7 321.1,360.8 321.8,360.0 322.5,359.2 323.2,358.3 323.9,357.5 324.5,356.7 325.2,355.8 325.9,355.0 326.5,354.1 327.2,353.3 327.9,352.5 328.5,351.7 329.2,350.8 329.9,350.0 330.5,349.3 331.2,348.5 331.8,347.7 332.5,347.0 333.2,346.2 333.8,345.4 334.5,344.6 335.2,343.9 335.9,343.1 336.6,342.2 337.3,341.4 338.0,340.5 338.7,339.7 339.4,338.9 335.6,335.7 334.9,336.6 334.2,337.4 333.5,338.3 332.8,339.1 332.1,339.9 331.5,340.7 330.8,341.5 330.2,342.2 329.5,343.0 328.8,343.8 328.2,344.6 327.5,345.4 326.8,346.2 326.1,347.0 325.5,347.8 324.8,348.6 324.1,349.5 323.4,350.3 322.8,351.2 322.1,352.0 321.5,352.9 320.8,353.7 320.1,354.5 319.5,355.3 318.8,356.2 318.1,357.0 317.5,357.8 316.8,358.7 316.1,359.5 315.4,360.3 314.8,361.2 314.1,362.0" fill="#1c1c1a"/><polygon points="347.3,322.9 326.0,333.9 337.5,337.3 343.3,347.3" fill="#1c1c1a"/>
</svg>
<div class="lbl" style="left:37.5px;top:27.0px">1、</div>
<div class="lbl" style="left:470.0px;top:27.0px">2、</div>
<div class="lbl" style="left:470.0px;top:291.0px">4、</div>
<div class="lbl" style="left:37.5px;top:291.0px">3、</div>
<div class="cap" style="left:323.5px;top:520.2px">图<span style="margin-left:4.5px">7-12</span><span style="margin-left:3px">：</span><span style="margin-left:0.4px">穿绕单环</span><span style="margin-left:4.6px">8</span><span style="margin-left:3.4px">字结</span></div>
</body></html>
